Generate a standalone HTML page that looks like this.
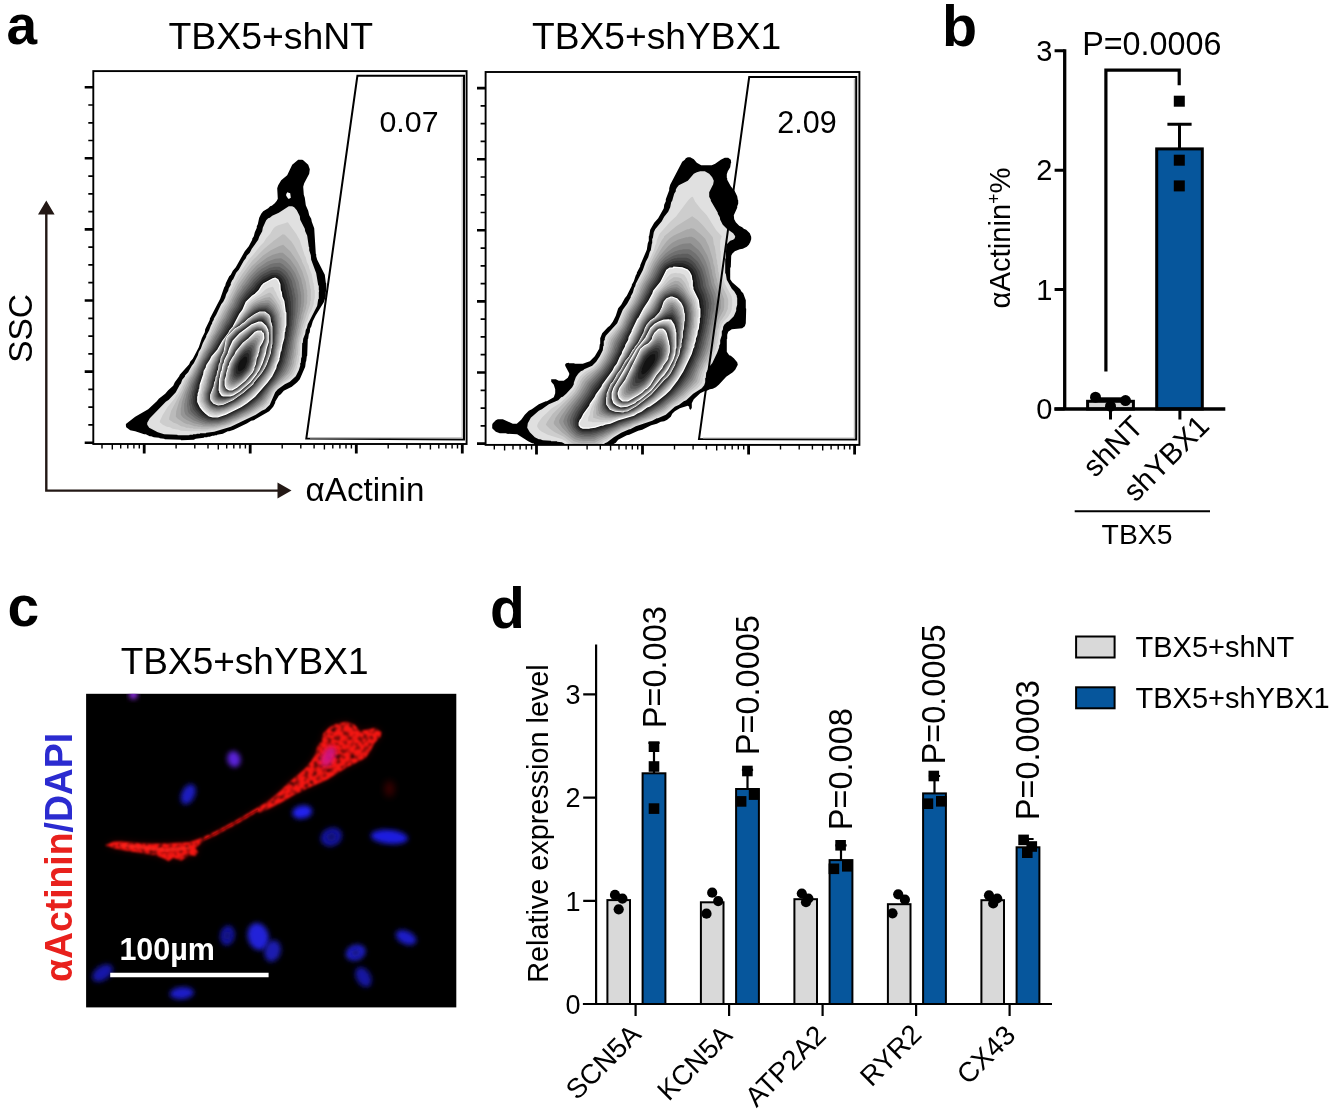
<!DOCTYPE html>
<html lang="en">
<head>
<meta charset="utf-8">
<title>Figure</title>
<style>html,body{margin:0;padding:0;background:#fff}body{width:1334px;height:1116px;overflow:hidden;font-family:'Liberation Sans', sans-serif}</style>
</head>
<body>
<svg width="1334" height="1116" viewBox="0 0 1334 1116" font-family="'Liberation Sans', sans-serif" style="display:block">
<rect width="1334" height="1116" fill="#fff"/>
<text x="6.5" y="44" font-size="55" font-weight="bold" fill="#000">a</text>
<text x="270.8" y="48.8" font-size="37.4" text-anchor="middle" fill="#000">TBX5+shNT</text>
<text x="656.6" y="48.8" font-size="37.2" text-anchor="middle" fill="#000">TBX5+shYBX1</text>
<defs><clipPath id="cp1"><rect x="94" y="71" width="372" height="373"/></clipPath><clipPath id="cp2"><rect x="486" y="72" width="373" height="372.9"/></clipPath></defs>
<g clip-path="url(#cp1)"><path d="M287.2 192.2 290.2 193.2 290.8 197.8 289.2 198.8 288.2 198.8 286.2 195.8 286.2 194.2ZM303.2 160.2 302.2 159.8 298.2 159.8 292.2 164.8 287.2 175.2 281.2 180.2 278.2 185.2 277.2 188.2 277.8 198.8 276.8 200.8 274.8 203.2 271.8 205.8 270.2 206.2 268.2 208.2 263.2 211.2 261.2 213.8 259.2 217.8 257.8 224.2 256.8 226.2 256.8 227.8 254.8 232.2 253.8 236.2 252.2 238.8 252.2 239.8 248.8 246.2 244.8 251.2 235.8 267.2 232.8 270.8 230.8 274.8 229.2 276.2 225.8 283.2 225.2 285.8 224.2 287.2 220.2 298.8 209.8 318.8 209.8 319.8 205.2 329.2 204.8 332.2 201.8 338.2 198.8 347.2 192.8 358.8 190.2 361.8 189.2 364.2 179.8 374.8 179.2 376.2 174.8 382.2 173.2 385.8 168.2 390.2 165.2 393.8 158.8 398.8 156.8 401.2 148.2 409.2 135.2 416.8 126.2 423.8 125.8 424.8 126.2 427.2 130.2 430.2 135.2 431.2 144.2 434.2 145.8 434.2 149.8 436.2 151.2 436.2 153.8 437.2 159.2 437.8 159.8 438.2 164.2 438.8 164.8 439.2 180.8 439.8 181.2 440.2 193.8 439.8 195.8 438.8 203.8 437.8 204.2 437.2 207.2 437.2 207.8 436.8 209.8 436.8 212.2 435.8 214.2 435.8 214.8 435.2 216.8 435.2 217.2 434.8 222.8 433.8 227.8 431.2 229.2 431.2 233.8 429.8 247.2 423.2 251.2 420.8 253.8 420.2 269.2 411.2 273.2 406.8 275.2 402.8 275.2 401.8 278.8 395.8 280.8 394.2 283.8 390.8 291.8 386.8 297.2 382.2 299.8 379.2 305.2 366.8 305.8 361.8 306.2 361.2 306.8 356.2 307.2 355.8 307.8 339.2 308.2 338.8 308.8 334.2 309.8 332.2 310.2 328.2 311.2 326.8 312.8 321.2 315.8 315.2 323.8 302.2 325.8 296.2 325.8 291.8 326.2 291.2 326.2 283.2 325.8 282.8 324.8 274.8 317.2 259.8 316.2 256.2 316.2 254.2 315.8 253.8 314.2 228.2 311.8 221.8 311.2 218.8 309.2 215.2 308.2 210.8 305.8 205.2 304.8 197.8 303.8 194.8 303.2 186.8 304.2 183.2 309.2 173.8 309.8 169.2 308.2 164.8Z" fill="#000"/>
<path d="M294.2 207.2 292.2 206.2 288.8 206.2 278.8 212.8 272.2 215.8 269.8 217.8 268.2 218.2 266.2 220.2 262.8 227.8 262.2 231.2 259.2 236.8 258.2 239.8 251.8 248.8 249.8 252.8 246.8 255.8 245.8 258.2 243.8 260.8 238.8 269.8 236.2 272.8 233.2 279.2 232.2 280.2 230.8 283.2 230.8 284.8 228.8 288.2 228.2 290.8 226.2 294.2 225.2 297.8 223.2 301.8 221.2 304.2 216.2 314.8 213.8 318.8 213.8 319.8 212.2 322.2 212.2 323.2 210.8 325.8 209.2 330.2 206.2 335.8 206.2 336.8 202.8 343.2 200.8 348.8 198.8 351.8 197.8 355.2 193.8 363.2 191.8 365.8 188.2 372.2 185.2 375.2 184.8 376.8 182.2 379.8 180.8 383.8 179.8 384.8 175.8 392.2 168.8 399.8 165.8 401.8 149.8 418.2 147.2 422.8 147.2 424.8 149.2 427.8 157.8 432.2 164.2 434.2 177.2 434.8 177.8 435.2 189.2 435.2 189.8 434.8 192.8 434.8 193.2 434.2 196.2 434.2 196.8 433.8 199.8 433.8 200.2 433.2 205.8 433.2 206.2 432.8 214.2 431.8 230.8 426.8 255.8 414.8 261.8 410.8 265.2 409.2 269.8 404.8 275.2 392.2 277.8 389.2 284.8 384.2 289.8 381.8 295.8 376.2 298.8 370.2 300.2 365.8 300.2 363.2 300.8 362.8 301.2 357.8 301.8 357.2 302.2 343.2 302.8 342.8 303.2 338.8 305.2 333.8 305.8 329.8 306.8 328.2 307.8 324.2 317.2 305.8 318.2 299.2 318.8 298.8 318.8 292.2 319.2 290.8 318.8 290.2 318.8 285.8 318.2 285.2 316.2 273.2 311.2 259.8 310.8 255.2 309.2 250.2 309.2 247.2 308.8 246.8 307.2 235.8 305.2 231.2 304.8 228.8 300.2 219.8 299.8 216.2 296.8 210.2Z" fill="#e0e0e0"/>
<path d="M287.8 222.2 278.2 225.2 275.2 226.8 273.2 228.8 270.2 233.8 266.2 238.2 263.8 242.2 259.8 246.2 253.2 254.8 249.8 258.2 238.2 275.2 233.2 284.2 233.2 285.2 230.2 290.8 230.2 291.8 224.8 303.2 222.2 306.8 217.8 316.2 215.8 319.2 215.8 320.2 212.2 326.8 210.8 331.2 202.2 347.8 201.2 350.8 199.8 352.8 199.8 353.8 193.8 365.8 191.2 369.2 190.2 371.8 184.2 380.2 183.8 382.2 177.8 393.8 176.2 395.2 174.8 398.2 167.8 406.8 162.8 414.8 159.8 421.2 159.8 422.2 162.8 424.8 166.8 426.8 169.8 427.2 172.8 428.8 178.8 429.8 180.8 430.8 190.8 431.2 191.2 431.8 191.8 431.2 205.8 431.2 206.2 430.8 210.8 430.8 211.2 430.2 213.8 430.2 228.2 426.2 251.8 415.2 264.2 407.8 268.2 403.8 274.2 391.8 276.8 388.8 282.8 383.8 290.8 378.2 293.8 374.8 297.2 367.2 297.2 365.8 298.8 361.2 299.2 356.2 299.8 355.8 299.8 350.8 300.2 350.2 300.2 344.2 300.8 343.8 301.2 338.8 303.2 333.2 303.8 329.2 304.8 327.8 305.8 323.2 307.8 319.2 309.2 314.2 311.8 309.8 313.8 303.8 313.8 301.2 314.8 297.8 314.8 290.2 314.2 289.8 314.2 286.2 313.8 285.8 313.8 283.2 313.2 282.8 311.8 274.2 309.2 268.2 308.8 265.8 306.8 261.8 305.8 257.2 304.8 255.8 299.8 240.2 296.2 233.8Z" fill="#cdcdcd"/>
<path d="M284.8 234.8 282.8 234.2 273.8 240.8 264.2 248.8 252.2 260.8 242.2 274.2 236.2 283.8 229.2 297.8 229.2 298.8 226.8 303.8 224.8 306.2 220.2 315.8 219.2 316.8 195.8 364.8 194.8 365.8 190.8 373.8 185.8 381.2 185.2 383.2 182.8 387.8 182.8 388.8 171.2 410.8 169.2 417.8 169.2 419.8 173.8 422.8 176.8 423.8 181.2 426.2 184.2 426.8 186.2 427.8 189.2 427.8 189.8 428.2 192.8 428.2 193.2 428.8 200.2 428.8 200.8 429.2 208.2 429.2 208.8 428.8 216.2 428.2 229.8 424.2 244.8 416.8 245.8 416.8 248.8 415.2 249.8 414.2 254.2 412.2 261.2 407.2 262.8 406.8 266.8 402.8 267.2 401.2 270.8 396.2 272.2 392.8 274.8 389.2 278.8 385.2 287.8 378.2 291.8 373.8 294.2 368.8 295.8 364.2 295.8 362.2 296.2 361.8 297.2 355.2 297.8 354.8 298.8 342.2 299.2 341.8 299.8 337.2 301.2 333.2 301.8 329.2 310.2 303.8 310.2 301.2 310.8 300.8 310.8 288.8 310.2 288.2 310.2 285.8 309.8 285.2 308.2 276.8 304.8 267.2 301.8 261.2 301.8 260.2 294.2 245.8 291.2 241.2Z" fill="#bbbbbb"/>
<path d="M283.2 244.8 278.8 246.2 270.8 250.2 262.8 255.8 251.2 266.8 238.2 284.8 228.2 304.8 224.8 310.2 212.2 335.2 211.2 336.2 210.2 339.2 209.2 340.2 205.8 347.8 204.8 348.8 195.8 367.2 194.8 368.2 191.8 374.8 189.2 378.2 179.2 401.2 176.2 411.2 175.8 416.8 177.8 418.8 183.8 422.8 187.2 424.2 188.8 424.2 194.8 426.2 197.2 426.2 197.8 426.8 200.8 426.8 201.2 427.2 213.8 427.2 214.2 426.8 216.8 426.8 217.2 426.2 219.2 426.2 221.2 425.2 224.8 424.8 230.2 422.8 232.8 421.2 233.8 421.2 249.8 413.2 262.8 404.8 265.2 402.2 270.8 393.8 271.8 391.2 275.8 386.2 282.2 380.8 289.8 372.8 292.8 366.8 294.2 361.8 294.2 359.8 295.8 354.8 295.8 351.2 296.2 350.8 296.8 343.2 297.2 342.8 297.8 338.2 299.8 331.8 299.8 329.8 300.2 329.2 301.8 321.8 303.2 318.2 303.8 314.8 306.2 307.8 306.2 305.8 307.2 302.8 307.2 296.8 307.8 295.8 307.2 295.2 307.2 290.2 306.8 289.8 305.8 282.2 302.2 271.2 297.8 262.2 290.2 251.2Z" fill="#a8a8a8"/>
<path d="M282.8 252.8 279.8 252.8 272.8 254.8 266.8 257.8 256.2 265.8 248.2 274.8 237.2 290.8 232.2 300.2 231.8 302.2 230.8 303.2 223.2 317.8 219.8 323.2 214.8 333.8 213.8 334.8 207.2 347.8 203.8 353.2 192.2 376.8 191.2 377.8 188.8 382.8 188.2 385.2 185.2 391.8 181.8 402.2 181.2 407.2 180.8 407.8 180.8 414.8 183.2 417.8 186.2 419.8 193.8 423.2 202.8 425.2 203.2 425.8 214.8 425.8 215.2 425.2 217.8 425.2 218.2 424.8 222.2 424.2 230.8 421.2 234.2 419.2 235.2 419.2 249.8 411.8 260.2 404.8 264.8 400.2 271.8 389.2 274.2 386.2 286.8 373.8 288.8 370.8 291.8 363.8 291.8 361.8 293.2 357.2 294.2 349.2 294.8 348.8 295.8 339.2 296.2 338.8 297.8 330.2 299.2 325.8 299.2 323.8 301.2 317.2 301.2 315.2 302.8 310.8 302.8 308.8 303.8 305.8 303.8 302.8 304.2 302.2 304.2 293.2 303.8 292.8 303.8 289.8 303.2 289.2 303.2 287.2 302.8 286.8 302.8 284.8 302.2 284.2 301.2 278.8 296.2 267.8 290.2 259.2Z" fill="#959595"/>
<path d="M281.2 258.2 275.2 258.8 267.2 261.8 257.8 268.2 250.2 276.2 244.2 284.8 242.2 286.8 241.8 288.2 237.8 293.8 233.8 301.2 233.8 302.2 228.2 311.2 225.2 317.8 222.8 321.2 219.8 327.8 213.8 337.8 208.8 347.8 206.2 351.2 190.8 382.2 186.2 394.8 186.2 396.2 184.8 400.8 184.8 402.8 184.2 403.2 184.2 410.8 185.2 414.2 187.2 416.2 193.2 420.2 202.8 423.8 204.8 423.8 205.2 424.2 211.2 424.2 211.8 424.8 212.2 424.2 219.2 423.8 223.2 422.2 224.8 422.2 238.8 416.2 239.8 415.2 250.8 409.8 259.2 403.8 264.2 398.8 270.8 388.8 283.8 374.8 286.2 371.2 289.8 363.8 289.8 362.2 291.2 357.8 291.2 355.8 291.8 355.2 291.8 353.2 292.2 352.8 294.2 338.2 296.2 331.2 296.2 329.2 296.8 328.8 296.8 326.8 297.2 326.2 297.2 324.2 297.8 323.8 297.8 321.8 298.2 321.2 298.2 319.2 298.8 318.8 298.8 316.8 299.8 313.8 299.8 311.2 300.2 310.8 300.2 307.8 300.8 307.2 300.8 304.2 301.2 303.8 301.2 294.8 300.8 294.2 300.8 291.8 300.2 291.2 300.2 288.8 299.8 288.2 298.8 282.2 295.2 273.2 290.2 265.8 285.8 261.2Z" fill="#828282"/>
<path d="M282.8 264.2 279.8 262.8 273.8 263.2 270.2 264.2 261.8 268.8 256.2 273.2 251.2 278.8 248.2 283.2 244.2 287.8 237.2 298.2 233.2 306.8 230.8 310.2 225.2 321.2 222.8 324.8 221.2 328.2 216.2 336.2 210.2 347.8 208.2 350.2 204.8 357.2 203.8 358.2 197.8 370.2 197.8 371.2 191.2 385.2 187.8 396.8 186.8 406.2 187.2 406.8 187.8 411.2 188.8 413.2 195.8 418.8 199.8 420.8 205.8 422.8 208.8 422.8 209.2 423.2 218.8 422.8 230.8 418.8 245.8 411.2 253.8 406.2 261.8 399.8 264.8 395.2 266.8 393.2 269.8 388.2 278.8 378.2 284.2 371.2 287.2 365.2 289.8 356.2 289.8 354.2 290.2 353.8 290.2 351.8 291.2 348.8 291.8 342.8 292.2 342.2 292.2 340.2 292.8 339.8 292.8 337.8 293.2 337.2 293.2 335.2 293.8 334.8 293.8 332.8 294.2 332.2 294.2 330.2 294.8 329.8 294.8 327.8 295.8 324.8 296.2 318.8 296.8 318.2 297.2 312.8 297.8 312.2 297.8 307.8 298.2 307.2 298.2 294.8 297.8 294.2 297.2 289.2 296.8 288.8 295.8 283.2 294.2 278.8 291.8 273.8 289.8 270.8Z" fill="#707070"/>
<path d="M279.2 266.8 273.8 266.8 273.2 267.2 269.8 267.8 260.8 272.8 253.8 279.2 239.2 298.2 235.2 306.8 232.8 310.2 228.2 319.2 227.2 320.2 220.8 332.2 202.8 362.2 193.8 382.8 192.2 387.2 192.2 388.8 190.8 392.2 190.8 393.8 189.8 396.2 189.8 399.2 189.2 399.8 189.2 405.2 189.8 405.8 190.2 409.8 191.2 411.8 194.8 415.2 199.2 418.2 203.2 420.2 208.2 421.8 217.8 421.8 226.8 419.2 233.8 415.8 234.8 415.8 237.8 413.8 245.2 410.2 252.2 405.8 261.2 398.2 269.2 387.2 276.8 378.8 282.2 371.2 286.2 362.8 286.8 359.2 287.8 357.2 287.8 355.2 288.2 354.8 288.2 352.8 288.8 352.2 288.8 350.2 289.8 347.2 289.8 344.8 290.2 344.2 290.2 342.2 291.2 339.2 291.2 336.8 291.8 336.2 291.8 334.2 292.2 333.8 292.2 331.8 293.2 328.8 294.8 315.8 295.2 315.2 295.8 297.8 295.2 297.2 295.2 294.8 294.2 291.8 294.2 289.2 293.2 287.2 291.8 280.8 287.2 272.8 284.2 269.8Z" fill="#5d5d5d"/>
<path d="M279.2 270.2 277.8 270.2 277.2 269.8 271.2 270.2 263.8 273.8 260.8 275.8 253.8 282.8 252.2 285.2 246.2 291.8 240.8 299.2 237.2 306.8 233.2 312.8 228.8 321.8 225.2 326.8 224.2 329.2 217.8 339.2 212.2 349.2 208.8 353.8 207.2 357.2 204.8 360.8 196.2 380.2 193.8 387.8 193.8 389.2 192.2 392.8 191.8 398.2 191.2 398.8 191.2 403.8 191.8 404.2 192.8 409.2 198.2 415.2 202.8 418.2 203.8 418.2 207.8 420.2 210.2 420.2 210.8 420.8 219.8 420.2 228.8 417.2 244.8 409.2 254.2 402.8 261.2 396.2 268.2 386.8 274.8 379.2 281.2 369.8 284.8 361.8 284.8 360.2 286.8 353.8 288.2 344.2 288.8 343.8 288.8 341.2 289.2 340.8 289.2 338.8 290.2 335.8 290.8 330.8 291.2 330.2 291.2 327.8 292.2 324.2 292.2 320.2 292.8 319.8 292.8 315.2 293.2 314.8 293.2 300.2 292.8 299.8 292.8 296.2 291.8 293.8 291.8 291.2 288.2 279.8 285.8 275.8 281.8 271.8Z" fill="#4a4a4a"/>
<path d="M279.8 273.8 277.2 272.8 271.8 272.8 263.2 276.8 255.8 283.8 254.2 286.2 246.2 294.8 241.2 301.8 238.2 308.2 235.8 311.8 229.2 324.2 227.8 325.8 224.2 332.2 218.8 340.2 217.8 342.8 205.8 361.2 198.8 377.2 195.8 386.2 195.8 387.8 194.8 389.8 193.8 395.8 193.2 396.2 193.2 403.8 195.8 409.8 201.2 415.2 205.2 417.8 211.8 419.8 219.2 419.2 227.2 416.8 244.2 408.2 250.2 404.2 258.8 397.2 273.2 379.2 279.8 369.2 283.2 360.8 283.2 359.2 284.8 354.8 284.8 352.8 286.2 348.2 286.2 345.8 286.8 345.2 286.8 343.2 287.2 342.8 287.2 340.8 287.8 340.2 287.8 338.2 288.8 335.2 288.8 332.8 289.2 332.2 289.2 329.8 289.8 329.2 289.8 326.8 290.2 326.2 290.8 315.8 291.2 315.2 290.8 301.2 290.2 300.8 290.2 297.8 289.2 295.2 289.2 293.2 288.8 292.8 288.8 290.8 288.2 290.2 287.2 284.8 285.8 281.8 285.8 280.8 283.2 276.8Z" fill="#373737"/>
<path d="M277.2 275.2 275.8 275.2 275.2 274.8 271.2 275.2 262.8 279.8 257.2 285.2 253.8 290.2 252.8 290.8 243.8 300.8 240.2 308.2 236.8 313.2 230.8 324.8 219.8 341.2 215.2 349.2 209.2 357.2 208.2 359.8 205.2 364.2 203.8 368.8 201.8 372.2 201.8 373.8 200.8 375.2 197.8 384.2 197.8 385.8 195.2 394.2 194.8 401.8 195.8 405.2 198.8 410.2 203.2 414.8 208.8 417.8 212.2 418.2 212.8 418.8 215.2 418.8 215.8 418.2 218.8 418.2 219.2 417.8 224.2 416.8 240.2 409.2 248.2 404.2 255.8 398.2 263.2 390.2 264.8 387.8 272.2 378.8 278.8 367.8 278.8 366.8 281.8 360.2 281.8 358.8 283.2 354.2 283.2 352.2 283.8 351.8 283.8 349.8 284.8 347.2 286.8 335.2 287.2 334.8 287.2 332.2 287.8 331.8 287.8 329.2 288.8 325.8 289.2 311.2 288.8 310.8 288.2 300.8 287.8 300.2 287.8 298.2 287.2 297.8 286.2 291.8 284.8 287.2 284.8 285.2 281.8 278.8 279.2 276.2Z" fill="#252525"/>
<path d="M276.8 277.2 275.2 276.8 271.8 277.2 262.8 282.2 260.2 284.8 257.8 288.8 245.2 301.2 241.2 309.8 239.2 312.2 231.8 326.2 228.8 329.8 227.8 332.2 220.8 342.2 216.8 349.2 210.8 356.8 209.2 360.2 205.8 365.8 205.8 366.8 202.8 372.8 202.8 374.2 199.8 382.2 198.8 388.2 196.8 394.8 196.8 398.8 196.2 399.8 196.8 400.2 197.2 404.2 198.8 407.2 201.8 411.2 203.8 413.2 209.2 416.8 210.8 417.2 218.8 417.2 226.8 414.8 240.8 407.8 249.8 401.8 258.2 394.2 268.2 382.2 273.2 375.2 277.8 366.2 277.8 365.2 279.8 361.2 279.8 359.8 281.8 353.2 281.8 351.2 283.2 346.8 283.2 344.8 283.8 344.2 283.8 342.2 284.2 341.8 284.8 337.2 285.2 336.8 285.2 334.2 286.2 331.2 286.8 325.2 287.2 324.8 287.2 311.8 286.8 311.2 286.2 303.2 285.8 302.8 285.2 298.8 284.2 296.8 284.2 294.8 282.8 290.2 281.8 283.8 279.8 279.8Z" fill="#121212"/>
<path d="M275.2 278.2 272.8 278.8 263.8 283.8 261.8 285.8 258.8 290.8 255.2 294.2 252.2 296.2 246.2 302.2 242.8 310.2 239.8 314.2 233.2 326.8 229.8 330.8 228.8 333.2 222.8 341.2 217.8 349.8 211.8 356.8 210.2 360.2 206.8 365.2 206.2 367.8 204.2 371.2 203.8 374.2 200.2 384.8 199.8 389.2 199.2 389.8 199.2 391.2 198.2 393.8 198.2 396.2 197.8 396.8 197.8 401.8 200.2 406.8 202.8 410.2 205.8 413.2 209.2 415.8 212.8 416.8 217.8 416.8 225.8 414.2 240.8 406.8 246.8 402.8 254.8 396.2 267.2 382.2 271.8 375.8 275.8 367.8 276.2 365.2 278.8 359.8 278.8 357.8 279.2 357.2 280.2 351.2 280.8 350.8 281.8 344.8 283.8 337.8 284.2 331.8 284.8 331.2 284.8 328.8 285.8 325.2 285.8 312.8 285.2 312.2 283.8 301.2 281.8 296.8 281.2 292.2 280.2 290.2 279.8 284.2 277.8 279.8Z" fill="#e0e0e0" stroke="#fff" stroke-width="1.3"/>
<path d="M272.8 286.8 268.8 287.8 265.8 289.2 260.8 293.8 251.2 300.2 247.8 303.8 244.2 310.2 240.8 314.8 234.2 325.8 229.8 330.8 228.8 333.2 224.2 339.2 218.2 350.2 212.8 357.2 210.2 362.8 208.2 365.8 207.2 369.2 205.8 371.8 205.2 374.8 201.8 385.2 201.2 389.8 199.8 394.8 199.8 401.2 201.8 405.8 204.2 409.2 206.8 411.8 210.8 414.2 216.8 415.2 217.2 414.8 219.2 414.8 219.8 414.2 224.8 413.2 233.8 409.2 234.8 408.2 241.8 404.8 251.8 397.2 263.2 385.2 271.2 374.2 274.8 367.2 275.2 364.8 277.8 359.2 277.8 357.2 278.2 356.8 279.2 350.8 280.8 346.2 280.8 343.8 281.8 341.2 281.8 338.2 282.2 337.8 282.8 331.2 283.2 330.8 283.2 327.8 283.8 327.2 283.8 313.8 281.8 307.2 281.8 305.2 280.8 303.8 280.8 302.2 276.8 294.8 276.2 292.8 274.2 289.8 274.2 288.8Z" fill="#cdcdcd"/>
<path d="M270.2 292.8 268.8 292.8 256.8 298.8 251.8 302.2 248.8 305.2 246.8 308.8 236.8 322.2 236.2 323.8 230.2 330.8 229.8 332.2 225.8 337.2 218.8 350.8 213.8 357.8 211.2 363.2 210.2 364.2 205.8 376.2 205.8 377.8 204.2 381.2 204.2 382.8 202.2 389.2 201.8 393.8 201.2 394.2 201.2 401.2 205.8 408.8 209.2 411.8 215.2 413.8 220.2 413.2 226.8 411.2 239.8 404.8 251.2 396.2 259.8 387.8 266.2 379.8 270.2 373.8 273.8 366.8 274.2 364.2 276.8 358.8 276.8 356.8 277.2 356.2 278.2 350.2 279.8 345.8 279.8 343.2 280.2 342.8 280.2 340.2 281.2 336.8 281.2 333.2 281.8 332.8 281.8 328.2 282.2 327.8 282.2 317.2 281.8 316.8 281.2 311.2 279.2 305.2 272.2 294.2Z" fill="#bbbbbb"/>
<path d="M269.2 296.8 268.8 297.2 264.8 297.8 259.2 300.2 258.2 300.2 253.2 303.2 250.2 305.8 226.8 336.2 219.2 351.2 214.8 357.8 210.8 365.8 206.8 377.2 206.8 378.8 205.8 380.8 205.8 382.2 203.8 388.2 203.8 390.2 202.8 392.8 202.8 396.8 202.2 397.2 202.8 401.2 205.8 406.8 210.2 410.8 214.2 412.2 219.8 412.2 227.8 409.8 237.8 404.8 250.2 395.8 259.2 386.8 265.8 378.8 270.2 371.8 275.2 360.2 275.8 356.8 276.8 354.8 277.2 350.2 278.2 347.8 278.2 345.8 278.8 345.2 279.8 336.2 280.2 335.8 280.2 330.8 280.8 330.2 280.8 317.8 280.2 317.2 279.8 312.8 276.2 304.2 271.8 298.8Z" fill="#a8a8a8"/>
<path d="M269.8 300.8 268.8 300.2 265.2 300.2 264.8 300.8 261.2 301.2 255.2 303.8 251.8 306.2 244.2 314.8 238.2 322.8 229.8 332.2 226.2 337.2 220.2 349.8 220.2 350.8 215.8 357.8 211.8 366.2 206.8 381.2 206.8 382.8 203.8 393.2 203.8 400.2 204.2 401.8 207.8 407.2 210.2 409.2 215.2 411.2 219.2 411.2 227.8 408.8 237.8 403.8 248.8 395.8 257.2 387.8 265.2 377.8 269.8 370.8 273.8 361.8 274.8 357.2 275.8 355.2 275.8 353.2 276.2 352.8 276.2 350.8 276.8 350.2 277.2 346.2 277.8 345.8 277.8 343.2 278.2 342.8 278.8 334.8 279.2 334.2 279.2 328.2 279.8 327.8 279.2 317.2 278.8 316.8 278.8 314.8 277.8 311.8 274.8 305.8Z" fill="#959595"/>
<path d="M269.2 303.2 268.2 302.8 260.8 303.2 257.8 304.2 253.2 306.8 247.2 312.8 240.8 320.8 230.8 331.2 229.8 333.2 226.8 336.8 224.2 341.8 221.8 348.8 219.2 353.8 218.2 354.8 213.2 365.2 208.2 380.2 208.2 381.8 207.2 383.8 207.2 385.2 204.8 393.8 204.8 399.8 206.8 404.2 210.8 408.2 213.8 409.8 215.8 409.8 216.2 410.2 219.2 410.2 219.8 409.8 224.2 409.2 229.2 406.8 230.2 406.8 239.2 401.8 249.2 394.2 257.8 385.8 265.2 376.2 268.8 370.8 271.2 365.8 271.8 363.2 272.8 361.8 274.8 355.8 276.2 346.8 276.8 346.2 276.8 343.8 277.2 343.2 277.8 334.2 278.2 333.8 278.2 320.2 277.8 319.8 277.2 314.8 273.8 307.8Z" fill="#828282"/>
<path d="M268.8 305.2 267.8 304.8 261.8 304.8 261.2 305.2 259.2 305.2 254.2 307.8 251.8 309.8 244.2 317.2 238.8 323.8 235.8 326.2 230.2 332.2 226.2 337.8 221.2 351.2 216.8 359.2 216.8 360.2 215.2 362.8 213.8 367.8 212.8 369.2 212.8 370.8 211.8 372.2 211.8 373.8 208.8 382.2 208.8 383.8 205.8 394.2 205.8 399.2 206.8 402.2 209.8 406.2 212.8 408.2 216.2 408.8 216.8 409.2 219.8 409.2 220.2 408.8 224.2 408.2 227.2 407.2 237.8 401.8 247.2 394.8 256.8 385.8 267.2 371.8 270.2 365.8 273.8 356.2 273.8 354.8 274.8 352.2 274.8 349.8 275.8 347.2 275.8 344.8 276.2 344.2 276.8 334.2 277.2 333.8 277.2 321.8 276.8 321.2 276.2 316.2 273.2 309.8Z" fill="#707070"/>
<path d="M267.8 306.8 266.2 306.2 259.2 306.8 254.2 309.2 247.8 314.8 247.8 315.2 232.8 329.8 226.8 337.2 224.8 343.2 223.8 344.8 223.8 346.2 222.8 347.8 222.2 350.2 218.2 357.8 218.2 358.8 215.8 363.8 211.8 375.8 211.8 377.2 210.2 380.8 209.2 386.2 206.8 393.8 206.8 399.2 209.2 404.2 211.2 406.2 216.2 408.2 220.8 408.2 221.2 407.8 223.2 407.8 226.2 406.8 236.2 401.8 244.8 395.8 255.2 386.2 265.8 372.8 266.8 370.2 267.8 369.2 271.2 361.2 273.8 353.2 274.8 345.8 275.2 345.2 275.8 334.8 276.2 334.2 276.2 322.8 275.8 322.2 274.8 315.8 272.2 310.8Z" fill="#5d5d5d"/>
<path d="M267.8 308.8 265.8 307.8 261.2 307.8 260.8 308.2 258.8 308.2 254.8 310.2 250.2 313.8 240.8 323.2 236.2 326.8 230.8 332.2 226.2 338.2 226.2 339.8 224.8 342.8 224.8 344.2 222.2 351.8 218.8 358.2 217.2 363.2 216.2 364.8 216.2 366.2 213.8 372.8 213.8 374.2 212.2 377.8 212.2 379.2 210.8 382.8 210.8 384.8 207.8 393.8 207.8 399.2 209.2 402.8 212.2 405.8 215.8 407.2 224.2 406.8 234.8 401.8 244.8 394.8 253.2 387.2 263.8 374.2 268.8 365.2 272.8 354.2 273.8 346.8 274.2 346.2 274.2 343.2 274.8 342.8 274.8 336.2 275.2 335.8 275.2 324.8 274.8 324.2 274.8 320.8 274.2 320.2 273.8 316.2 271.2 311.8Z" fill="#4a4a4a"/>
<path d="M265.8 309.2 259.8 309.2 256.8 310.2 252.2 313.2 242.8 322.2 236.2 327.2 229.8 333.8 227.2 337.2 225.8 340.2 223.8 349.2 217.8 362.8 217.8 364.2 216.2 367.8 216.2 369.2 215.2 370.8 214.8 374.2 213.8 376.2 213.8 377.8 212.2 381.2 211.8 384.8 208.8 393.8 208.8 399.8 210.2 402.8 212.2 404.8 215.2 406.2 220.2 406.8 227.2 404.8 235.8 400.2 247.8 391.2 255.2 383.8 265.8 369.8 270.2 359.8 271.2 355.2 272.2 353.2 272.2 351.2 273.2 348.2 273.2 345.2 273.8 344.8 273.8 338.8 274.2 338.2 274.2 324.8 273.8 324.2 273.8 321.2 273.2 320.8 272.8 317.2 271.2 313.8Z" fill="#373737"/>
<path d="M266.8 311.2 264.8 310.2 260.2 310.2 256.2 311.8 249.2 316.8 243.8 322.2 234.2 329.2 227.2 337.2 225.2 343.2 224.2 349.2 218.8 362.2 218.8 363.8 217.2 367.2 215.8 374.2 214.8 376.2 214.2 379.8 213.2 381.2 212.2 386.8 209.8 392.8 209.8 394.8 209.2 395.2 209.8 399.8 211.2 402.8 213.8 404.8 216.8 405.8 223.8 405.2 228.8 402.8 229.8 402.8 238.8 397.2 247.8 390.2 254.8 383.2 263.2 372.2 266.2 367.2 270.8 355.8 270.8 354.2 271.8 351.8 271.8 349.2 272.2 348.8 272.2 346.2 272.8 345.8 272.8 342.2 273.2 341.8 273.2 325.2 272.8 324.8 272.8 321.8 270.2 314.2Z" fill="#252525"/>
<path d="M266.2 312.2 263.8 311.2 261.2 311.2 260.8 311.8 258.8 311.8 253.2 314.8 249.2 317.8 244.2 322.8 242.8 323.2 238.2 327.2 234.8 329.2 227.2 337.2 226.2 340.2 224.8 349.2 220.8 358.2 220.8 359.8 218.8 364.8 218.2 369.2 217.2 370.8 216.2 376.2 213.8 383.2 213.2 386.8 210.2 394.2 210.2 399.2 212.2 402.8 213.8 403.8 218.2 405.2 223.2 404.8 233.8 399.8 247.2 389.8 253.8 383.2 264.2 369.2 267.2 363.2 270.8 353.2 271.8 345.2 272.2 344.8 272.2 325.2 271.8 324.8 271.8 322.2 269.2 314.8Z" fill="#121212"/>
<path d="M264.8 312.2 259.8 312.2 253.8 315.2 248.2 319.2 244.2 323.2 242.8 323.8 239.8 326.2 234.8 329.2 227.2 337.2 226.2 340.2 224.2 351.8 221.2 358.2 220.8 361.8 219.2 365.2 218.8 369.8 217.8 371.2 217.2 375.2 216.2 377.2 215.8 380.8 214.8 382.2 214.2 386.2 210.8 394.8 210.8 398.8 211.2 400.2 213.8 403.2 218.2 404.8 223.2 404.2 232.8 399.8 243.2 392.2 252.8 383.8 253.8 381.8 261.2 372.8 264.2 368.2 266.2 364.2 270.2 353.2 270.8 348.2 271.2 347.8 271.2 344.8 271.8 344.2 271.8 326.2 271.2 325.8 271.2 323.8 270.2 321.2 269.8 317.2 268.8 315.2Z" fill="#e0e0e0" stroke="#fff" stroke-width="1.3"/>
<path d="M266.2 313.2 264.2 312.2 259.8 312.2 253.8 315.2 248.2 319.2 244.2 323.2 242.8 323.8 239.8 326.2 234.8 329.2 227.2 337.2 226.2 340.2 224.2 351.8 221.2 358.2 220.8 361.8 219.2 365.2 218.8 369.8 217.8 371.2 217.2 375.2 216.2 377.2 215.8 380.8 214.8 382.2 214.2 386.2 210.8 394.8 210.8 398.8 211.8 400.8 214.2 403.2 218.2 404.8 223.2 404.2 232.8 399.8 243.2 392.2 252.8 383.8 253.8 381.8 261.2 372.8 264.2 368.2 266.2 364.2 270.2 353.2 270.8 348.2 271.2 347.8 271.2 344.8 271.8 344.2 271.8 326.2 271.2 325.8 269.8 317.2 268.8 315.2Z" fill="#cdcdcd"/>
<path d="M264.2 313.2 259.2 313.2 254.2 315.8 248.2 319.8 244.2 323.8 242.8 324.2 239.8 326.8 234.8 329.8 229.2 335.2 227.2 338.2 224.8 350.2 221.2 358.2 220.8 361.8 219.8 363.2 218.8 369.8 217.8 371.2 217.2 375.2 214.8 382.8 214.2 387.2 212.8 390.8 212.8 392.2 211.8 393.8 211.8 398.8 214.2 402.2 218.2 403.8 222.8 403.8 224.2 402.8 225.8 402.8 230.2 400.2 231.2 400.2 235.8 397.8 243.2 392.2 252.8 383.8 253.8 381.8 261.2 372.8 264.2 368.2 269.8 354.2 269.8 352.8 270.8 350.2 270.8 347.8 271.2 347.2 271.2 344.8 271.8 344.2 271.8 327.8 271.2 327.2 269.2 317.8 267.8 315.2Z" fill="#bbbbbb"/>
<path d="M267.2 315.8 264.8 314.8 263.8 313.8 260.2 313.8 254.2 316.2 252.8 317.8 247.8 320.8 244.8 323.8 236.2 329.2 228.2 337.8 226.8 341.8 224.8 351.8 221.8 358.2 221.2 361.8 220.2 363.2 219.2 369.8 218.2 371.2 217.8 375.2 216.8 377.2 216.2 380.8 214.8 384.8 214.2 388.8 212.2 394.8 212.8 399.2 214.8 401.8 218.8 403.2 219.8 402.8 223.8 402.8 228.2 401.2 234.2 398.2 243.2 391.8 251.2 384.8 262.2 370.8 267.2 360.2 269.8 352.8 269.8 350.8 270.8 347.8 270.8 344.8 271.2 344.2 271.2 326.8 269.8 323.2 269.2 319.8Z" fill="#a8a8a8"/>
<path d="M263.8 314.8 259.8 314.8 252.2 318.2 240.8 327.2 235.2 330.8 228.8 337.8 227.2 341.8 227.2 343.2 225.8 347.8 225.8 349.8 223.8 355.2 222.2 357.8 221.2 362.2 220.2 363.8 219.2 370.2 218.2 371.8 217.8 375.8 216.8 377.8 216.8 379.8 215.2 384.2 215.2 386.8 213.2 393.2 213.2 397.8 213.8 399.2 215.8 401.2 218.8 402.2 223.2 402.2 229.2 400.2 235.2 397.2 242.8 391.8 250.2 385.2 262.2 370.2 267.2 359.2 269.2 353.2 269.2 351.2 269.8 350.8 269.8 348.8 270.2 348.2 270.2 346.2 271.2 343.2 271.2 330.8 270.8 330.2 270.8 326.8 268.8 321.8 268.8 320.2 267.2 317.2Z" fill="#959595"/>
<path d="M263.8 315.8 259.2 315.8 252.8 318.8 250.2 320.8 248.8 321.2 245.8 324.2 236.8 330.2 229.2 338.2 227.2 343.8 225.8 350.8 222.2 358.8 221.8 362.2 220.8 363.8 219.8 369.8 218.8 371.8 218.2 375.8 217.2 377.8 217.2 379.2 215.8 383.8 215.8 386.8 214.8 389.2 214.2 395.2 213.8 395.8 215.2 399.8 218.2 401.2 224.8 401.2 233.8 397.8 246.2 388.8 252.8 382.2 254.2 379.8 259.8 373.2 263.2 367.8 268.8 353.8 269.8 347.2 270.2 346.8 270.2 344.2 270.8 343.8 270.8 329.2 270.2 328.8 270.2 326.8 268.8 322.2 267.2 319.8 267.2 318.8 266.2 317.2Z" fill="#828282"/>
<path d="M263.8 316.8 262.2 316.8 261.8 316.2 258.8 316.8 252.2 319.8 235.8 331.8 229.2 339.2 227.8 343.8 227.8 345.2 226.8 347.2 226.8 348.8 225.8 350.8 225.8 352.2 224.8 353.8 224.8 354.8 222.2 360.2 222.2 361.8 221.2 363.2 221.2 364.8 217.2 379.2 217.2 381.2 216.2 383.2 216.2 386.2 215.8 386.8 215.2 393.2 214.8 393.8 214.8 396.2 216.2 399.2 218.2 400.2 222.8 400.8 223.2 400.2 227.8 399.8 234.8 396.8 236.2 395.2 240.8 392.8 251.8 383.2 252.8 381.2 258.2 374.8 262.2 368.8 264.8 363.8 268.8 352.2 269.8 344.8 270.2 344.2 270.2 340.8 270.8 340.2 270.8 334.2 270.2 333.8 270.2 328.8 269.8 328.2 269.8 326.8 266.2 318.8Z" fill="#707070"/>
<path d="M264.2 318.2 262.2 317.2 260.8 317.2 255.8 318.8 251.8 320.8 248.8 322.8 246.2 325.2 236.8 331.8 232.2 336.2 229.8 339.8 225.8 353.2 224.2 355.8 222.2 361.2 222.2 362.8 221.2 364.2 220.8 368.2 219.2 372.2 218.8 376.2 217.8 378.2 217.8 380.2 217.2 380.8 217.2 382.8 216.2 385.8 215.8 396.2 216.8 398.2 218.2 399.2 219.8 399.2 220.2 399.8 225.2 399.8 225.8 399.2 230.8 398.2 237.2 394.8 242.8 390.8 251.2 383.2 261.2 369.8 264.2 363.8 268.2 352.2 268.2 350.2 268.8 349.8 268.8 347.8 269.2 347.2 269.8 342.8 270.2 342.2 270.2 331.8 269.8 331.2 269.8 328.2 266.8 321.2Z" fill="#5d5d5d"/>
<path d="M264.2 319.2 262.2 318.2 260.2 318.2 252.2 321.2 237.2 332.2 230.8 339.2 227.2 348.8 226.8 351.8 223.2 359.2 223.2 360.8 221.2 365.8 221.2 367.8 219.8 371.8 219.2 375.8 217.8 380.2 217.2 385.2 216.8 385.8 216.8 395.8 217.8 397.8 220.2 398.8 226.8 398.8 227.2 398.2 230.8 397.8 235.8 395.2 242.2 390.8 250.2 383.8 260.2 370.8 262.8 366.2 262.8 365.2 265.8 358.8 266.2 355.8 267.8 352.2 269.2 343.8 269.8 343.2 269.8 330.8 269.2 330.2 269.2 328.2 266.8 322.8Z" fill="#4a4a4a"/>
<path d="M263.2 319.8 262.2 319.2 257.8 319.8 250.2 323.2 246.2 326.8 238.2 332.2 231.2 339.8 227.2 351.8 224.8 356.8 224.8 357.8 223.2 360.8 223.2 362.2 222.2 363.8 222.2 365.2 218.8 377.8 217.8 385.2 217.2 385.8 217.2 392.8 217.8 393.2 217.8 395.8 218.2 396.8 222.2 398.2 225.8 398.2 226.2 397.8 228.8 397.8 231.8 396.8 236.8 394.2 244.8 388.2 249.8 383.8 259.2 371.8 262.2 366.2 262.2 365.2 263.8 362.8 264.2 360.2 266.2 355.8 267.8 348.2 268.8 346.2 269.2 339.8 269.8 339.2 269.8 335.2 269.2 334.8 268.8 328.2 266.2 323.2Z" fill="#373737"/>
<path d="M262.8 320.8 261.8 320.2 257.2 320.8 250.8 323.8 239.2 332.2 232.2 339.8 229.2 346.2 227.8 351.8 224.2 359.2 219.2 377.2 218.2 385.2 217.8 385.8 218.2 386.8 217.8 387.8 218.2 389.2 218.2 393.2 219.2 396.2 221.8 397.2 228.2 397.2 233.2 395.8 241.8 390.2 250.8 382.2 256.8 374.8 260.2 369.2 265.2 357.2 265.2 355.8 266.8 352.2 267.2 348.2 268.2 346.2 268.8 341.2 269.2 340.8 268.8 330.2 265.8 323.8Z" fill="#252525"/>
<path d="M261.8 321.2 255.2 322.2 251.2 324.2 239.8 332.8 232.8 340.2 223.8 361.8 223.8 363.2 222.8 364.8 221.8 370.8 220.8 372.8 220.2 376.8 219.2 379.2 219.2 381.8 218.8 382.2 218.8 391.8 219.2 392.2 219.2 393.8 220.8 395.8 224.2 396.8 230.2 396.2 234.2 394.8 239.8 391.2 250.8 381.8 256.2 374.8 259.8 369.2 264.8 357.2 264.8 355.8 266.2 352.2 266.2 350.2 268.8 341.8 268.8 332.8 268.2 332.2 267.8 328.8 264.8 323.8Z" fill="#121212"/>
<path d="M262.2 322.8 261.2 322.2 258.8 322.2 251.8 324.8 239.8 333.8 233.2 340.8 229.8 348.2 228.2 353.2 224.8 360.2 224.2 363.2 223.2 364.8 222.2 370.2 221.2 372.2 220.2 378.2 219.8 378.8 219.2 390.2 219.8 390.8 219.8 392.2 221.8 395.2 223.2 395.8 230.2 395.8 233.2 394.8 239.2 391.2 250.2 381.8 256.2 374.2 256.8 372.8 258.8 370.2 262.2 362.8 265.2 353.8 266.2 348.2 268.2 342.2 268.2 332.2 267.8 331.8 267.8 330.2 265.8 326.2Z" fill="#e0e0e0" stroke="#fff" stroke-width="1.3"/>
<path d="M262.8 324.2 260.8 323.2 257.8 323.2 252.2 325.2 240.2 334.2 233.8 341.2 225.2 360.2 223.2 366.2 223.2 367.8 221.2 374.2 221.2 376.2 220.2 378.8 219.8 389.2 220.2 389.8 220.2 391.2 222.2 394.2 224.8 395.2 229.8 395.2 233.2 394.2 237.8 391.8 243.8 387.2 250.2 381.2 257.8 371.2 260.8 365.2 261.2 362.8 262.2 361.2 264.2 355.2 264.2 353.8 265.2 351.8 265.8 348.2 267.8 342.2 267.8 339.2 268.2 338.8 268.2 335.8 267.8 335.2 267.2 330.2 265.2 326.8Z" fill="#cdcdcd"/>
<path d="M262.8 325.2 260.8 324.2 257.2 324.2 251.2 326.8 240.2 335.2 236.8 338.8 233.8 342.8 230.8 348.8 230.2 351.2 227.8 355.8 227.8 356.8 225.8 360.2 220.8 378.2 220.2 388.2 221.2 391.8 222.2 393.2 226.2 394.8 229.8 394.8 233.2 393.8 237.8 391.2 243.8 386.8 249.8 381.2 257.2 371.2 260.2 365.2 262.2 358.2 263.2 356.8 263.2 355.2 264.8 351.8 264.8 349.8 265.8 347.8 265.8 346.2 267.2 342.8 267.2 340.2 267.8 339.8 267.2 331.8 265.2 327.8Z" fill="#bbbbbb"/>
<path d="M262.8 326.2 260.8 325.2 256.2 325.2 251.8 327.2 240.2 336.2 237.2 339.2 233.8 344.2 228.8 354.8 228.8 355.8 226.2 360.2 223.8 367.8 223.2 371.8 221.2 378.2 220.8 387.2 221.8 390.8 223.8 393.2 227.2 394.2 229.2 394.2 229.8 393.8 233.2 393.2 238.8 390.2 249.2 381.2 254.2 375.2 256.8 371.2 260.2 363.8 263.8 353.2 264.8 347.8 266.8 342.8 266.8 340.2 267.2 339.8 266.8 331.8 265.2 328.8Z" fill="#a8a8a8"/>
<path d="M262.2 326.8 259.8 325.8 257.8 325.8 252.2 327.8 240.2 337.2 234.2 344.8 234.2 345.8 233.2 346.8 231.2 350.8 231.2 351.8 226.8 360.2 224.2 367.8 223.2 373.8 221.8 378.2 221.2 386.8 222.2 390.2 223.8 392.2 228.2 393.8 229.2 393.2 232.2 393.2 238.8 389.8 248.8 381.2 255.8 372.2 259.8 363.8 266.8 340.2 266.8 334.2 266.2 333.8 266.2 331.8 265.2 329.8Z" fill="#959595"/>
<path d="M261.8 327.2 256.8 326.8 252.8 328.2 243.2 335.8 235.8 343.8 227.8 359.2 226.2 364.2 225.2 365.8 225.2 367.2 223.2 373.8 223.2 375.8 222.8 376.2 222.2 380.8 221.8 381.2 221.8 386.2 222.8 389.8 224.2 391.8 226.8 392.8 232.2 392.8 237.2 390.2 243.8 385.2 251.2 377.8 254.8 373.2 258.8 364.8 262.2 354.2 263.2 348.8 266.2 340.8 266.2 333.8 265.8 333.2 265.8 331.8 263.8 328.8Z" fill="#828282"/>
<path d="M262.2 328.2 257.8 327.2 257.2 327.8 255.8 327.8 251.2 330.2 243.2 336.8 238.2 341.8 234.2 347.8 227.2 361.8 225.2 367.8 225.2 369.2 223.2 375.8 223.2 377.8 222.8 378.2 222.2 386.2 223.2 389.2 224.2 390.8 227.2 392.2 232.2 392.2 237.2 389.8 243.8 384.8 250.2 378.2 254.2 373.2 258.2 364.8 259.8 360.2 259.8 358.8 262.2 352.2 262.2 350.2 265.8 340.8 265.8 333.2 264.2 330.2Z" fill="#707070"/>
<path d="M261.8 328.8 256.8 328.2 251.8 330.8 239.8 341.2 233.8 349.8 233.2 351.8 227.8 361.8 223.8 375.8 223.2 380.8 222.8 381.2 222.8 385.8 223.8 388.8 225.2 390.8 227.8 391.8 232.2 391.8 237.2 389.2 244.2 383.8 252.8 374.8 255.2 370.8 255.8 368.2 258.2 363.2 258.2 361.8 261.8 351.8 261.8 349.8 265.8 338.8 265.2 333.2 264.2 331.2Z" fill="#5d5d5d"/>
<path d="M262.2 329.8 257.8 328.8 257.2 329.2 255.8 329.2 252.2 331.2 240.8 341.2 234.2 350.2 227.8 363.2 224.2 375.8 223.8 380.8 223.2 381.2 223.2 385.2 223.8 385.8 223.8 387.2 225.8 390.2 227.8 391.2 232.8 391.2 237.2 388.8 245.8 381.8 252.2 374.8 254.2 371.8 255.2 368.2 256.8 365.8 258.2 361.2 258.2 359.8 260.2 354.8 260.2 353.2 261.2 351.2 261.2 349.2 263.8 343.8 265.2 338.8 264.8 333.2Z" fill="#4a4a4a"/>
<path d="M261.8 330.2 260.8 329.8 256.8 329.8 252.8 331.8 239.8 343.8 234.8 350.8 228.2 363.2 228.2 364.8 226.8 367.8 226.8 369.2 224.8 375.8 224.2 380.8 223.8 381.2 223.8 385.2 225.2 388.8 226.2 389.8 228.2 390.8 232.8 390.8 237.2 388.2 245.8 381.2 253.2 372.8 254.8 368.2 256.2 365.8 257.8 359.2 259.8 354.2 260.8 348.8 263.8 342.2 264.8 338.8 264.2 332.8Z" fill="#373737"/>
<path d="M261.8 330.8 260.8 330.2 257.2 330.2 252.8 332.8 241.8 342.8 238.2 346.8 237.8 348.2 235.2 351.2 233.8 354.8 229.2 362.2 228.8 364.8 227.2 367.8 227.2 369.2 225.8 373.8 225.8 375.8 224.8 378.2 224.2 384.8 225.2 387.8 227.2 389.8 228.2 390.2 232.8 390.2 237.2 387.8 245.8 380.8 252.8 372.8 256.2 364.2 256.2 362.8 257.2 360.8 257.2 358.8 258.8 355.8 258.8 354.2 259.8 351.8 260.2 347.8 263.2 342.2 264.2 338.8 263.8 332.8Z" fill="#252525"/>
<path d="M261.8 331.2 257.8 330.8 253.2 333.2 248.2 338.2 242.8 342.8 235.8 351.8 234.2 355.2 229.8 362.2 226.2 373.8 226.2 375.8 225.8 376.2 225.2 380.8 224.8 381.2 224.8 384.2 225.8 387.8 228.2 389.8 232.8 389.8 237.8 386.8 239.8 384.8 242.2 383.2 249.2 376.2 252.8 371.8 256.2 362.2 256.8 358.2 258.2 355.2 259.8 347.2 262.8 342.2 263.8 338.8 263.2 333.2Z" fill="#121212"/>
<path d="M261.2 331.2 257.8 331.2 255.2 332.2 248.8 338.8 243.2 343.2 236.2 351.8 234.8 355.2 232.8 357.8 229.8 363.2 229.8 364.8 228.2 367.2 228.2 368.8 226.8 373.2 226.8 375.2 225.2 379.8 225.2 385.2 226.2 387.8 227.2 388.8 229.2 389.8 232.2 389.8 236.8 387.2 245.2 380.2 252.2 372.2 253.8 368.8 253.8 367.2 255.2 364.2 256.2 358.2 257.8 355.2 257.8 353.8 258.8 351.2 259.2 347.2 262.2 342.2 263.8 338.2 263.2 333.2 262.2 332.8Z" fill="#e0e0e0" stroke="#fff" stroke-width="1.3"/>
<path d="M261.2 332.8 260.2 332.2 255.8 332.8 248.8 339.2 245.2 341.8 239.2 348.2 232.8 358.2 229.8 363.8 229.8 365.2 227.8 369.8 227.8 371.8 227.2 372.2 226.2 378.8 225.8 379.2 225.8 384.8 226.8 387.2 228.8 388.8 231.2 389.2 236.8 386.8 244.8 380.2 252.2 371.8 253.8 368.2 253.8 366.8 255.2 363.8 256.2 357.8 258.8 350.2 258.8 348.2 259.8 345.2 262.2 341.2 262.2 339.8 262.8 339.2 262.8 334.8Z" fill="#cdcdcd"/>
<path d="M259.8 333.8 256.8 333.8 254.8 334.8 246.8 341.2 240.2 347.8 233.2 358.2 230.8 362.8 230.2 365.2 228.8 368.2 227.2 376.8 226.8 377.2 226.8 379.8 226.2 380.2 226.8 384.8 228.8 387.2 229.8 387.8 232.8 387.8 236.2 386.2 245.2 379.2 250.2 373.8 252.2 370.8 253.2 366.8 254.8 363.8 255.8 357.8 257.2 354.2 258.2 347.8 261.8 339.2 261.8 336.2Z" fill="#bbbbbb"/>
<path d="M259.8 336.2 257.8 335.2 255.8 335.8 249.8 339.8 240.2 348.8 236.2 354.2 230.8 364.2 228.2 372.8 227.8 378.2 227.2 378.8 227.2 382.2 227.8 382.8 227.8 384.2 229.8 386.2 230.8 386.8 234.2 386.2 240.8 382.2 248.2 375.2 251.2 371.2 254.2 363.2 255.8 355.8 257.2 351.8 257.8 347.2 260.2 340.2 260.2 337.2Z" fill="#a8a8a8"/>
<path d="M257.2 337.8 255.2 337.8 247.2 342.8 240.2 349.8 234.8 357.8 231.8 363.2 228.8 373.8 228.2 381.8 228.8 383.2 231.2 385.2 233.8 385.2 238.8 382.8 242.8 379.8 250.2 371.8 253.2 364.8 253.2 363.2 254.8 359.2 254.8 357.2 256.2 353.2 256.8 348.2 257.2 347.8 257.2 345.8 258.8 340.8 258.2 338.8Z" fill="#959595"/>
<path d="M255.8 340.2 253.2 340.2 247.2 343.8 240.2 350.8 234.2 359.8 232.2 363.8 230.2 369.8 229.8 374.8 229.2 375.2 229.2 380.2 230.8 383.2 231.8 383.8 234.2 383.8 238.8 381.8 242.2 379.2 249.8 371.2 252.8 364.2 252.8 362.8 253.8 360.8 253.8 358.8 255.2 354.2 255.2 352.2 255.8 351.8 256.2 345.8 256.8 345.2 256.8 341.8Z" fill="#828282"/>
<path d="M254.2 342.8 251.2 342.8 246.2 345.8 240.8 351.2 234.8 360.2 231.2 368.8 230.8 373.8 230.2 374.2 230.2 378.8 230.8 380.2 232.8 382.2 234.8 382.2 240.2 379.8 242.2 378.2 249.2 370.8 251.8 365.2 251.8 363.8 252.8 361.8 253.2 357.8 254.2 355.2 254.2 353.2 254.8 352.8 255.2 344.8Z" fill="#707070"/>
<path d="M252.8 345.2 251.2 344.8 246.8 346.8 242.8 350.2 236.8 358.2 233.2 365.2 231.8 370.2 231.2 376.2 231.8 376.8 231.8 378.2 233.2 380.2 236.8 380.2 240.8 378.2 242.8 376.8 248.2 370.8 250.8 365.8 252.2 360.8 252.8 356.2 253.2 355.8 253.8 346.8Z" fill="#5d5d5d"/>
<path d="M250.8 347.2 249.2 347.2 244.2 350.2 239.8 355.2 234.8 363.8 232.8 370.2 232.8 376.2 234.2 378.2 236.8 378.8 241.8 376.2 247.2 370.8 248.8 368.2 251.2 361.2 251.2 359.2 252.2 356.2 252.2 349.2Z" fill="#4a4a4a"/>
<path d="M248.8 349.8 245.2 351.2 240.2 356.2 235.2 365.2 234.2 368.8 234.2 374.8 234.8 375.8 236.2 376.8 239.2 376.2 241.8 374.8 246.2 370.2 248.8 365.8 250.8 358.8 250.8 351.8 250.2 350.8Z" fill="#373737"/>
<path d="M247.8 352.8 244.8 353.8 240.8 357.8 236.8 364.8 235.8 367.8 235.8 372.8 237.2 374.2 239.2 374.2 242.8 372.2 246.2 368.2 248.8 362.2 248.8 360.2 249.2 359.8 249.2 354.8Z" fill="#252525"/>
<path d="M246.2 356.8 244.2 356.8 240.8 360.2 239.2 362.8 237.8 366.8 237.8 369.8 238.8 371.2 240.8 371.2 244.8 367.8 247.2 361.2 247.2 357.8Z" fill="#121212"/></g>
<g clip-path="url(#cp2)"><path d="M728.2 157.8 724.8 157.8 720.8 159.8 715.2 163.8 711.8 165.2 701.2 165.2 696.8 162.8 693.8 159.2 690.2 157.2 687.8 157.2 685.8 158.2 684.8 159.8 682.2 161.8 670.2 184.8 669.2 188.2 669.2 190.2 665.8 199.2 665.8 201.2 664.2 204.8 663.8 208.2 658.2 218.2 654.2 222.8 650.2 229.8 649.2 235.8 648.8 236.2 648.8 240.8 647.8 243.2 646.8 249.8 640.2 265.2 640.2 266.2 636.8 272.8 636.8 273.8 635.8 275.2 633.8 281.2 631.8 284.8 631.8 285.8 626.8 295.8 624.8 298.2 621.2 304.8 618.2 308.2 615.8 315.8 612.8 321.8 609.8 325.8 607.8 327.2 602.2 333.2 600.2 338.2 600.2 343.8 599.8 344.2 599.2 348.8 594.8 356.2 589.8 361.2 582.8 363.8 574.8 363.8 574.2 363.2 569.2 363.2 568.8 362.8 566.2 363.2 565.2 364.2 565.2 365.8 569.2 373.2 569.2 374.8 567.8 377.8 563.8 380.8 558.8 380.8 555.8 379.2 551.2 379.2 551.2 381.8 553.8 384.8 555.2 389.2 555.2 393.2 553.8 397.2 546.8 401.2 545.8 401.2 538.8 404.2 531.8 409.2 528.8 410.8 524.8 414.8 521.2 419.8 516.8 423.8 512.8 423.8 502.8 419.2 497.8 419.2 495.8 420.2 492.8 423.2 492.2 424.8 492.2 428.2 495.8 431.8 499.8 433.2 506.2 433.2 506.8 433.8 517.2 434.2 528.2 441.2 532.2 443.2 533.2 443.2 535.2 444.8 538.2 448.2 541.8 448.8 542.2 449.2 559.2 449.8 559.8 450.2 589.2 450.2 589.8 449.8 600.2 449.8 600.8 449.2 608.8 448.8 610.2 448.2 613.2 444.2 615.8 442.8 618.2 439.8 626.8 435.2 629.2 434.8 638.2 430.8 642.2 429.8 651.2 425.2 656.8 423.8 660.8 421.8 664.2 421.2 667.2 419.8 670.8 416.8 672.2 413.8 674.8 411.2 679.8 408.2 687.8 405.8 689.2 406.8 689.2 408.2 689.8 409.2 690.8 409.8 691.8 407.8 691.8 403.2 693.8 399.2 700.2 393.2 704.2 391.2 706.8 390.8 709.8 389.2 712.8 388.8 715.8 387.2 718.8 384.8 726.2 376.8 732.8 372.2 735.2 369.8 737.8 364.8 737.2 362.2 733.8 358.2 730.8 355.8 729.2 355.2 726.8 351.8 726.8 339.2 727.2 338.8 727.2 334.8 728.2 331.8 731.8 329.2 742.2 328.2 744.8 326.2 745.8 323.2 746.2 308.8 745.8 308.2 745.8 300.2 743.2 293.2 741.2 291.2 740.2 289.2 732.2 282.2 730.2 279.2 730.2 267.8 730.8 267.2 731.2 255.8 732.2 253.8 734.8 251.2 739.8 249.2 742.8 248.8 746.8 246.8 748.8 244.8 750.2 242.2 751.2 239.2 751.2 236.8 749.8 233.2 746.2 229.8 743.8 228.8 742.2 227.2 739.2 225.8 735.8 222.2 734.2 219.2 733.8 215.2 737.2 207.8 737.2 206.2 738.2 203.8 738.2 200.2 737.8 199.8 737.2 196.2 734.8 191.2 730.8 186.2 727.2 179.8 727.2 178.2 726.8 177.8 726.8 174.2 727.8 171.2 730.2 167.2 730.8 163.2 731.2 162.8 730.8 159.8Z" fill="#000"/>
<path d="M709.2 173.8 704.8 171.2 700.2 171.2 696.8 172.2 693.8 173.8 687.8 180.8 678.8 185.2 676.8 187.8 675.8 189.8 675.8 191.2 674.2 193.8 672.2 200.8 671.2 202.2 670.2 207.2 668.2 211.8 664.2 216.8 661.8 221.2 655.2 229.2 653.8 232.2 652.8 238.2 652.2 238.8 652.2 243.2 651.8 243.8 650.8 250.2 649.8 251.8 648.2 257.2 645.8 261.8 642.8 270.2 635.8 283.8 635.2 286.2 634.2 287.8 632.8 292.8 630.8 296.2 630.8 297.2 627.2 303.8 622.8 309.8 617.2 323.2 605.8 335.8 604.8 338.2 604.8 339.8 603.8 341.2 603.8 345.8 603.2 346.2 602.8 350.2 599.8 356.2 596.2 361.8 592.2 365.8 584.2 369.2 583.2 370.2 580.8 371.2 578.2 373.8 575.8 377.2 573.8 382.8 573.8 384.2 572.2 387.2 566.2 393.8 562.8 396.8 561.2 397.2 558.2 400.2 548.8 404.2 541.8 409.2 538.8 410.8 530.8 417.8 527.8 423.2 527.2 427.8 529.8 432.2 534.8 437.2 538.8 439.2 540.2 439.2 542.8 440.2 550.8 440.8 551.2 441.2 556.8 441.2 557.2 441.8 561.8 442.2 563.8 443.2 566.2 445.2 568.8 448.2 570.8 449.2 578.2 449.8 578.8 450.2 589.2 450.2 589.8 449.8 596.8 449.8 597.2 449.2 599.2 449.2 601.2 448.2 601.8 446.8 604.8 443.2 607.2 442.2 613.8 437.2 621.2 432.8 629.2 429.2 630.2 429.2 635.8 426.2 652.2 420.8 656.8 418.2 657.8 418.2 665.8 414.8 674.8 406.8 679.2 404.8 683.8 401.2 686.2 400.2 693.2 393.8 701.8 388.2 704.2 385.2 705.2 382.2 705.2 378.2 705.8 377.8 706.2 372.8 708.2 369.2 708.8 367.2 712.2 363.2 717.2 352.8 719.2 347.2 719.2 345.8 720.2 343.8 720.2 340.2 721.8 335.2 721.8 331.2 722.8 329.8 723.2 326.8 724.2 324.8 726.8 322.2 728.8 321.2 733.8 316.2 736.2 310.8 736.2 308.2 737.2 304.8 737.2 297.8 736.8 297.2 736.8 295.8 734.2 291.2 731.8 288.8 726.8 279.8 725.8 273.8 725.2 273.2 725.2 258.8 725.8 258.2 726.2 245.8 726.8 244.2 730.2 240.8 733.2 239.8 734.8 238.2 735.2 236.2 733.2 233.2 726.8 228.8 722.8 224.8 720.2 219.8 719.8 217.2 717.8 213.8 717.8 212.8 710.8 200.8 710.8 199.8 709.2 196.8 709.2 192.2 713.2 184.2 713.8 180.8 712.2 177.2Z" fill="#e0e0e0"/>
<path d="M692.8 196.8 691.2 197.2 688.2 200.2 676.2 216.2 669.8 222.2 659.2 234.2 656.8 240.2 656.2 243.8 655.2 245.2 653.8 250.8 646.8 265.2 645.8 268.8 637.2 285.2 634.2 293.8 630.2 301.8 624.2 310.8 618.8 323.8 607.8 337.2 607.2 339.8 605.8 342.8 605.8 345.8 604.2 349.8 604.2 351.2 598.8 361.2 593.2 367.2 585.2 371.8 579.8 376.8 576.8 382.2 576.2 384.8 573.2 389.8 564.2 399.2 559.8 403.2 551.8 408.2 542.2 417.2 538.2 422.8 537.2 425.2 537.2 426.8 539.2 429.8 541.8 431.8 547.8 434.8 562.2 439.2 565.8 441.2 571.8 446.2 573.8 446.2 576.2 447.2 579.2 447.2 579.8 447.8 588.8 447.8 589.2 447.2 595.8 447.2 596.2 446.8 597.8 446.8 600.8 444.8 603.8 441.8 606.2 440.8 615.8 434.2 622.8 430.8 629.8 428.2 635.2 425.2 637.8 424.8 639.2 423.8 644.8 422.2 646.2 421.2 652.2 419.2 664.8 413.2 674.2 405.2 676.8 404.2 684.8 398.8 692.2 391.8 697.8 387.8 701.8 383.2 702.8 380.2 702.8 377.8 703.8 375.8 703.8 373.8 705.2 370.8 705.2 369.8 707.2 365.8 710.2 361.8 715.2 350.8 716.8 346.2 716.8 344.8 717.8 342.8 717.8 340.2 718.2 339.8 719.8 330.2 721.8 324.2 723.8 321.2 727.8 317.2 730.8 312.2 731.8 309.2 731.8 306.8 732.2 306.2 732.2 298.8 731.8 298.2 731.8 296.8 724.8 283.8 721.8 273.2 721.2 260.8 720.8 260.2 720.8 251.2 720.2 250.8 720.2 240.8 721.8 236.2 716.2 230.2 706.8 215.2 700.2 208.2 695.2 201.8Z" fill="#cdcdcd"/>
<path d="M692.2 216.2 676.2 226.2 664.2 236.2 663.8 237.8 661.8 240.2 647.8 268.2 647.8 269.2 639.2 285.2 639.2 286.2 637.8 288.8 636.2 293.2 631.2 303.2 626.2 310.8 619.8 325.2 609.8 338.2 607.8 343.8 607.8 345.8 606.8 347.8 606.2 350.8 602.2 358.8 599.2 363.2 594.2 368.8 587.2 373.2 582.8 377.2 579.8 381.8 579.8 382.8 574.8 391.8 571.8 395.2 552.8 413.8 547.2 421.8 545.8 424.8 549.8 428.8 554.8 432.2 563.8 436.8 572.2 443.2 576.8 444.8 579.2 444.8 579.8 445.2 592.2 445.2 592.8 444.8 597.2 444.2 602.8 440.2 606.2 438.8 612.2 434.8 616.8 432.8 617.8 431.8 618.8 431.8 621.8 429.8 622.8 429.8 624.2 428.8 630.2 426.8 633.8 424.8 651.2 418.2 664.2 411.8 671.2 405.8 684.2 396.8 690.2 390.8 695.8 386.2 699.2 382.2 702.2 371.8 705.8 364.2 708.2 360.8 712.8 350.8 715.2 342.8 715.2 340.8 717.2 333.8 717.2 330.8 718.8 327.2 719.2 324.2 720.2 322.8 720.2 321.8 725.2 314.8 727.8 308.8 727.8 305.8 728.2 305.2 728.2 299.8 726.8 295.2 722.2 286.2 719.2 277.2 718.8 272.2 718.2 271.8 718.2 268.2 717.8 267.8 717.8 264.8 717.2 264.2 717.2 261.2 716.2 257.8 716.2 254.2 715.8 253.8 714.8 246.8 713.8 244.2 712.8 237.2 702.8 225.2 697.8 220.2Z" fill="#bbbbbb"/>
<path d="M693.8 228.8 690.8 228.2 688.8 229.2 687.2 229.2 674.2 235.2 669.8 238.2 666.8 241.2 662.2 247.2 653.2 261.8 647.2 274.8 646.2 275.8 640.2 287.2 638.8 291.8 632.8 303.8 627.2 312.2 621.8 324.8 611.2 339.8 607.2 352.8 603.2 360.2 600.2 364.8 596.8 368.8 587.8 375.8 584.8 378.8 582.2 382.2 579.2 388.8 576.2 393.2 561.2 410.2 555.2 418.2 555.2 419.2 553.8 421.8 553.8 423.8 554.8 425.2 561.8 432.2 573.8 441.2 578.8 442.8 580.8 442.8 581.2 443.2 594.8 442.8 622.2 428.2 629.8 425.8 632.2 424.2 637.2 422.8 639.8 421.2 649.2 417.8 662.2 411.2 665.8 408.8 670.8 404.2 676.2 400.8 680.8 396.8 683.2 395.2 696.8 381.8 700.2 371.2 702.8 366.8 703.8 363.8 706.8 359.2 706.8 358.2 710.8 349.8 712.2 345.2 712.2 343.8 713.2 341.8 713.2 339.2 715.2 332.8 715.2 330.2 716.8 326.2 716.8 324.8 718.2 320.2 723.8 309.8 723.8 308.2 724.2 307.8 724.2 299.2 717.2 281.8 717.2 280.2 715.8 275.8 715.8 273.8 715.2 273.2 715.2 270.8 714.8 270.2 714.8 267.8 713.2 262.8 713.2 260.8 708.8 246.2 705.2 238.8 701.2 234.8Z" fill="#a8a8a8"/>
<path d="M694.8 238.2 691.8 236.8 688.8 236.8 688.2 237.2 686.2 237.2 677.8 239.8 672.2 242.8 668.2 246.2 659.8 255.8 654.8 263.2 648.8 275.8 643.2 284.8 640.2 291.2 640.2 292.2 634.8 303.2 629.2 311.8 621.8 327.8 613.8 339.2 611.8 343.8 611.2 346.8 610.2 348.2 610.2 349.8 605.8 359.2 600.8 366.8 585.8 381.2 578.2 394.2 567.8 406.8 561.2 416.2 559.2 420.2 559.2 422.8 562.2 427.8 571.2 436.8 574.8 439.2 579.8 440.8 582.2 440.8 582.8 441.2 594.2 440.8 601.2 437.2 602.2 437.2 621.8 427.2 626.8 425.8 628.2 424.8 641.8 419.8 644.2 418.2 645.2 418.2 660.2 410.8 664.8 407.8 667.2 405.2 675.8 399.2 681.8 394.2 690.8 385.2 695.2 379.8 698.8 369.8 703.8 359.8 704.8 358.8 704.8 357.8 707.8 351.8 710.2 344.2 715.2 321.8 720.8 308.2 720.8 300.2 718.2 292.2 714.2 282.8 714.2 280.8 712.2 274.2 712.2 272.2 711.8 271.8 711.8 269.8 711.2 269.2 710.2 263.8 707.2 255.2 701.2 244.8 699.2 242.2Z" fill="#959595"/>
<path d="M691.2 243.8 690.2 243.2 683.2 243.8 679.8 244.8 673.2 247.8 665.8 253.2 659.2 260.2 654.8 267.2 650.2 276.8 646.2 282.8 637.8 300.8 629.2 314.8 629.2 315.8 625.8 322.2 625.8 323.2 624.2 326.2 614.8 341.2 610.8 352.8 605.8 362.2 600.8 369.2 587.8 382.2 579.8 395.8 571.8 405.8 565.2 415.8 563.2 421.2 564.2 424.2 569.2 431.8 575.8 437.2 582.8 439.2 591.2 439.2 591.8 438.8 594.2 438.8 598.2 436.8 601.8 435.8 605.2 433.8 606.2 433.8 607.2 432.8 608.2 432.8 621.2 426.2 623.8 425.8 625.2 424.8 630.2 423.2 631.8 422.2 640.2 419.2 642.8 417.8 643.8 417.8 659.2 409.8 663.8 406.8 679.2 394.2 686.2 387.2 692.8 379.8 695.2 374.2 695.2 373.2 696.8 370.8 696.8 369.8 699.2 365.2 699.2 364.2 703.8 356.2 708.2 343.8 708.2 342.2 709.8 337.8 709.8 335.8 711.2 331.2 711.8 326.8 712.8 324.8 713.2 320.8 714.2 318.8 714.2 317.2 715.8 313.8 715.8 312.2 717.8 306.2 717.8 301.8 715.8 295.8 715.8 294.2 711.8 284.8 708.2 268.8 705.8 261.8 702.8 255.8 698.8 250.2Z" fill="#828282"/>
<path d="M691.2 250.2 689.2 249.2 682.8 249.2 682.2 249.8 680.2 249.8 675.2 251.2 670.2 253.8 665.2 257.2 660.8 261.8 657.2 266.8 652.2 276.8 646.8 285.2 637.8 303.8 631.2 314.2 624.2 329.2 616.8 341.2 614.2 347.2 613.2 351.2 608.8 360.2 603.2 368.8 589.2 383.8 584.2 392.8 574.2 406.2 568.2 416.2 566.8 420.8 568.2 425.8 571.8 431.2 576.2 435.2 581.8 437.2 592.8 437.2 603.8 433.2 620.8 425.2 628.8 422.8 630.2 421.8 637.8 419.2 641.2 417.2 642.2 417.2 662.2 406.2 674.8 396.2 685.2 385.8 691.2 378.2 694.8 370.8 694.8 369.8 697.2 365.2 697.2 364.2 702.2 354.8 702.8 352.2 704.8 348.2 704.8 346.8 706.2 343.2 706.2 341.8 708.8 333.2 709.8 326.2 710.8 323.8 710.8 321.8 712.2 317.2 712.2 315.2 713.8 310.8 714.2 305.2 714.8 304.8 713.2 296.2 708.8 284.8 708.2 280.8 704.2 266.8 699.2 257.8 695.8 253.8Z" fill="#707070"/>
<path d="M690.8 255.2 687.8 253.8 681.8 253.8 681.2 254.2 678.2 254.2 673.2 255.8 665.2 260.2 661.2 264.2 658.8 267.8 654.2 276.8 648.2 285.8 640.2 302.2 631.8 316.2 631.2 318.2 624.2 332.2 623.2 333.2 621.2 337.8 617.8 343.2 616.8 346.8 615.2 349.2 614.8 351.8 609.8 361.8 601.2 373.8 590.8 385.2 587.2 391.8 577.8 405.8 576.2 407.2 571.8 414.8 569.8 420.2 570.2 423.8 572.8 429.2 576.8 433.2 579.8 434.8 583.8 435.2 584.2 435.8 590.8 435.8 591.2 435.2 593.2 435.2 603.8 431.8 606.2 430.2 615.8 426.8 619.2 424.8 621.8 424.2 623.2 423.2 637.8 418.2 652.2 410.8 663.2 403.8 665.8 401.2 674.2 394.8 680.2 388.8 689.2 377.8 695.8 364.2 695.8 363.2 699.8 355.8 704.2 343.2 704.2 341.8 705.8 337.2 705.8 335.2 707.2 330.8 707.8 326.2 708.8 323.8 708.8 320.8 709.8 318.2 709.8 315.8 710.2 315.2 710.2 312.8 711.2 309.2 711.2 304.8 711.8 304.2 710.2 296.2 706.2 286.2 704.2 276.2 701.8 268.8 697.8 261.8Z" fill="#5d5d5d"/>
<path d="M689.2 258.8 686.8 257.8 677.2 257.8 676.8 258.2 674.8 258.2 671.8 259.2 664.2 263.8 660.2 268.8 654.8 279.2 649.2 287.2 643.2 299.8 634.8 313.8 627.2 328.8 626.8 330.8 625.8 331.8 618.8 345.2 616.8 351.2 611.2 362.2 603.8 373.2 592.2 386.8 587.8 394.8 575.8 412.2 572.8 418.8 572.8 424.2 573.8 427.2 577.8 431.8 582.2 433.8 592.2 433.8 592.8 433.2 596.2 432.8 607.8 428.8 609.2 427.8 611.8 427.2 618.8 423.8 632.8 419.2 643.8 414.2 659.8 404.8 672.8 394.2 681.2 385.2 688.2 375.8 690.2 371.8 690.2 370.8 694.8 362.2 694.8 361.2 697.8 355.8 701.2 346.2 701.2 344.8 702.2 342.8 702.2 341.2 705.2 330.8 705.2 328.8 705.8 328.2 705.8 326.2 706.8 323.2 706.8 320.2 707.8 317.2 708.2 309.2 708.8 308.8 708.8 302.2 708.2 301.8 708.2 299.8 706.8 295.8 706.8 294.2 705.8 292.8 705.2 290.2 703.2 285.8 702.8 281.8 699.8 271.2 695.2 263.8 692.2 260.8Z" fill="#4a4a4a"/>
<path d="M688.8 262.2 684.8 260.8 675.8 260.8 675.2 261.2 673.2 261.2 666.8 264.2 664.8 265.8 661.2 270.2 656.8 279.2 649.8 289.2 648.8 292.2 646.2 296.2 643.2 302.8 641.2 305.2 640.2 307.8 635.8 314.8 631.2 323.8 631.2 324.8 626.2 334.8 625.2 335.8 625.2 336.8 623.2 340.8 621.2 343.8 621.2 344.8 619.2 348.2 618.2 351.8 614.8 358.2 614.2 360.2 607.2 371.2 594.8 386.8 591.8 391.2 590.8 393.8 581.8 406.8 581.2 408.2 578.8 411.2 574.8 419.8 574.8 424.2 575.2 424.8 575.2 426.2 576.8 428.8 579.2 430.8 582.8 432.2 591.2 432.2 591.8 431.8 596.2 431.2 611.2 426.2 619.8 422.2 634.2 417.8 644.2 412.8 659.8 403.2 671.2 393.8 680.8 383.2 685.8 376.2 693.8 360.2 693.8 359.2 696.2 354.8 697.8 349.8 698.8 348.2 699.2 344.8 701.2 339.2 701.2 337.2 702.2 335.2 702.2 333.2 702.8 332.8 704.2 323.8 704.8 323.2 704.8 319.8 705.2 319.2 705.2 316.2 705.8 315.8 705.8 310.2 706.2 309.8 705.8 300.8 705.2 300.2 704.2 295.2 700.8 287.2 699.8 280.8 697.2 272.2 695.8 269.2 692.2 264.8Z" fill="#373737"/>
<path d="M688.2 265.2 682.8 263.2 675.2 263.2 668.8 265.2 666.2 266.8 663.2 270.2 657.2 281.8 651.2 289.8 646.2 300.2 636.2 316.8 632.8 323.8 632.8 324.8 626.2 337.2 626.2 338.2 621.2 347.8 621.2 348.8 615.2 361.8 607.8 373.2 599.8 383.2 597.8 386.8 595.8 388.8 591.8 395.8 580.2 412.8 576.8 419.8 576.8 425.2 577.2 426.8 580.2 429.8 582.8 430.8 590.8 430.8 593.8 429.8 596.2 429.8 609.2 425.2 610.8 425.2 615.8 422.8 622.2 420.8 623.8 419.8 634.2 416.8 642.2 412.8 656.8 403.8 668.8 394.2 676.2 386.2 682.8 377.8 688.8 366.8 688.8 365.8 692.8 358.2 692.8 357.2 694.8 353.8 695.8 349.8 696.8 348.2 697.8 343.2 699.8 337.2 699.8 335.8 700.2 335.2 700.2 333.8 700.8 333.2 700.8 331.8 701.2 331.2 701.2 329.8 701.8 329.2 702.2 324.2 702.8 323.8 703.2 315.2 703.8 314.8 703.8 305.2 703.2 304.8 703.2 301.2 701.2 294.8 699.8 292.2 697.8 286.8 697.2 281.8 696.8 281.2 695.8 275.2 692.8 269.2Z" fill="#252525"/>
<path d="M687.8 267.8 682.8 265.8 673.2 265.8 667.8 267.8 664.8 270.8 659.2 281.8 653.2 289.2 646.2 303.2 642.8 308.2 637.8 317.8 636.8 318.8 631.2 330.2 631.2 331.2 627.8 337.8 627.8 338.8 623.2 347.2 623.2 348.2 617.8 359.2 616.8 362.2 613.8 366.2 611.8 370.2 594.8 393.8 593.8 396.2 580.8 415.8 578.2 421.2 578.2 425.8 580.2 428.2 582.2 429.2 590.8 429.2 591.2 428.8 595.8 428.2 601.8 426.2 603.2 426.2 605.2 425.2 606.8 425.2 608.8 424.2 610.2 424.2 617.8 420.8 629.8 416.8 631.2 416.8 636.2 414.8 654.8 403.8 665.8 395.2 671.2 389.8 680.8 377.8 690.8 358.8 690.8 357.8 692.8 354.2 694.2 348.8 695.2 347.2 695.2 345.2 696.2 343.2 696.2 341.8 699.8 329.2 699.8 327.2 700.2 326.8 700.8 319.2 701.2 318.8 701.2 314.2 701.8 313.8 701.8 308.8 701.2 308.2 701.2 304.8 700.8 304.2 700.2 299.2 695.2 288.2 694.8 282.2 694.2 281.8 693.2 275.2 691.2 271.2Z" fill="#121212"/>
<path d="M687.2 269.8 682.2 267.8 673.8 267.2 673.2 267.8 669.8 268.2 666.8 270.2 660.8 282.2 653.8 290.8 652.8 293.8 648.2 302.2 643.8 308.8 638.8 318.2 637.8 319.2 632.2 330.8 632.2 331.8 629.2 337.2 628.8 340.2 625.8 345.2 625.8 346.2 622.8 351.8 622.2 354.2 620.2 357.2 617.2 364.2 614.8 367.2 612.8 371.2 602.8 384.8 601.8 387.2 596.2 394.8 595.2 397.2 590.2 404.2 589.8 405.8 583.8 414.2 581.2 419.2 580.2 420.2 579.2 422.8 579.2 425.2 580.8 427.2 582.8 428.2 589.2 428.2 589.8 427.8 595.2 427.2 601.2 425.2 602.8 425.2 604.8 424.2 610.2 423.2 617.8 419.8 633.8 415.2 636.8 413.2 641.2 411.2 647.2 406.8 649.8 405.8 655.8 401.8 665.2 394.2 669.8 389.8 677.2 380.2 682.8 371.2 691.2 353.8 692.8 348.2 693.8 346.8 693.8 344.8 695.2 340.8 695.2 338.8 696.8 334.8 697.2 330.8 698.2 328.8 698.8 323.2 699.2 322.8 699.2 317.8 699.8 317.2 699.8 308.8 699.2 308.2 698.2 300.2 692.8 289.2 692.8 287.2 692.2 286.8 692.2 280.8 691.8 280.2 691.2 275.8 689.2 271.8Z" fill="#e0e0e0" stroke="#fff" stroke-width="1.3"/>
<path d="M684.2 274.8 680.2 273.2 676.8 273.2 676.2 272.8 671.2 273.8 669.8 274.8 666.2 278.8 663.2 283.2 655.2 292.2 649.8 303.2 643.8 311.8 639.8 319.2 638.8 320.2 629.8 339.2 629.8 340.8 627.8 343.8 617.8 364.8 616.2 366.2 613.2 371.8 603.8 384.8 602.8 387.2 597.2 395.8 596.8 397.8 595.8 398.8 595.8 399.8 594.8 400.8 591.2 408.2 589.8 412.8 589.8 414.2 588.2 417.8 588.2 420.2 587.8 421.2 591.8 421.8 592.2 422.2 603.2 422.2 603.8 421.8 607.8 421.8 608.2 421.2 610.8 421.2 612.8 420.2 614.2 420.2 619.2 418.2 623.2 417.8 626.8 416.2 630.2 415.8 633.2 414.2 634.2 414.2 635.2 413.2 641.2 410.2 645.8 406.8 653.2 402.2 662.2 395.2 669.8 387.8 678.2 376.8 680.8 371.8 681.8 370.8 688.2 357.2 688.2 356.2 691.2 349.2 691.2 347.8 692.2 346.2 692.2 344.2 693.8 340.2 693.8 338.2 694.2 337.8 695.2 331.8 696.8 327.2 697.2 318.2 697.8 317.8 697.8 309.8 697.2 309.2 696.2 301.8 695.2 298.8 690.2 289.8 690.2 288.2 689.2 286.8 688.8 283.2 687.2 280.2 687.2 279.2Z" fill="#cdcdcd"/>
<path d="M681.2 278.2 677.8 277.2 673.8 277.2 669.2 280.2 656.2 293.8 649.2 306.8 646.8 309.8 639.8 320.8 630.8 339.8 630.8 340.8 628.8 343.8 623.8 353.8 623.2 355.8 620.8 359.2 620.8 360.2 619.2 363.2 611.2 375.8 604.2 385.2 602.2 389.8 599.2 394.2 599.2 395.2 597.8 397.8 597.8 398.8 596.2 401.2 594.2 406.8 594.2 408.8 593.2 411.8 593.2 417.8 600.2 419.8 611.2 419.8 615.8 418.2 617.8 418.2 618.2 417.8 627.8 415.8 635.2 412.8 651.8 402.2 661.8 394.2 671.8 383.8 678.2 374.8 686.8 357.8 690.2 348.2 690.2 346.8 692.2 340.2 692.2 338.2 693.8 333.8 694.2 329.2 695.2 326.8 695.8 316.8 696.2 316.2 696.2 311.2 695.8 310.8 695.8 308.2 695.2 307.8 695.2 305.8 694.8 305.2 694.8 303.2 693.8 300.2 691.2 295.2 690.2 294.2 685.2 283.2Z" fill="#bbbbbb"/>
<path d="M678.8 281.2 675.2 280.8 670.8 282.8 665.2 286.8 658.8 292.8 650.2 307.8 642.8 317.8 636.2 330.2 636.2 331.2 631.8 339.8 631.8 340.8 625.8 351.2 624.2 354.2 624.2 355.2 621.8 358.8 618.8 365.2 605.8 384.2 599.2 396.8 596.2 406.8 596.2 413.8 597.2 415.8 598.2 415.8 600.8 417.2 604.8 417.8 605.2 418.2 612.8 418.2 613.2 417.8 615.8 417.8 616.2 417.2 625.2 415.8 634.8 412.2 642.2 407.8 656.2 397.8 668.8 385.8 676.8 375.2 684.8 359.8 684.8 358.8 687.8 352.2 687.8 350.8 688.8 349.2 688.8 347.8 691.2 339.2 692.8 329.8 693.8 327.2 694.2 316.8 694.8 316.2 694.2 308.8 691.8 299.8 682.2 284.2Z" fill="#a8a8a8"/>
<path d="M677.2 284.2 674.8 284.2 671.8 285.2 667.8 287.2 662.2 291.2 659.8 293.8 656.8 298.2 650.8 309.2 645.8 315.2 641.8 321.2 638.8 327.2 638.8 328.2 633.2 338.8 633.2 339.8 628.8 347.2 626.8 351.8 625.8 352.8 624.8 355.8 622.2 359.2 620.2 363.8 616.8 368.8 616.2 370.2 605.2 386.2 605.2 387.2 602.2 392.2 602.2 393.2 599.8 398.8 599.8 400.2 598.2 404.8 598.2 410.8 598.8 411.2 598.8 412.8 599.2 413.8 601.8 415.2 602.8 415.2 604.2 416.2 609.2 416.8 609.8 417.2 616.8 416.8 617.2 416.2 620.2 416.2 620.8 415.8 626.8 414.8 631.2 413.2 636.2 410.8 648.2 402.8 656.8 396.2 664.8 388.8 671.8 380.8 675.8 375.2 682.8 361.8 682.8 360.8 684.8 357.2 685.2 354.8 687.8 348.8 688.8 342.8 690.2 338.2 690.2 335.8 690.8 335.2 690.8 333.2 691.2 332.8 691.2 330.8 692.2 327.8 692.2 325.2 692.8 324.8 692.8 321.2 693.2 320.8 693.2 311.2 692.8 310.8 691.8 304.2 690.2 301.2 690.2 300.2 684.2 290.8 682.2 288.2Z" fill="#959595"/>
<path d="M678.8 288.2 676.8 287.2 671.2 287.8 667.8 289.2 663.2 292.2 660.2 295.2 657.2 299.8 654.8 305.2 651.2 310.8 646.8 315.8 642.2 322.2 639.8 327.2 639.8 328.2 633.8 339.8 633.2 341.8 630.8 345.2 620.2 364.8 605.8 386.8 605.8 387.8 602.2 394.2 600.2 401.2 599.8 408.2 600.8 411.8 603.2 413.8 608.2 415.8 619.2 415.8 619.8 415.2 622.2 415.2 622.8 414.8 628.2 413.8 632.2 411.8 633.2 411.8 640.8 407.2 644.2 404.2 653.8 397.8 665.8 386.2 671.8 379.2 675.2 374.2 681.8 361.8 686.8 348.2 687.8 342.2 688.8 339.8 688.8 337.8 689.2 337.2 689.2 334.8 689.8 334.2 690.8 327.2 691.2 326.8 691.2 322.8 691.8 322.2 691.8 310.8 691.2 310.2 691.2 308.2 690.8 307.8 690.8 305.8 689.8 302.8 684.8 294.2 682.8 291.8Z" fill="#828282"/>
<path d="M678.8 290.8 675.8 289.2 671.2 289.8 667.2 291.2 662.8 294.2 659.2 298.8 652.8 310.8 647.2 316.8 642.8 323.2 633.2 343.2 628.8 350.2 618.8 368.2 607.2 385.2 603.8 392.8 601.8 399.2 601.2 407.8 602.2 410.8 605.2 413.2 609.2 414.8 612.2 414.8 612.8 415.2 615.8 415.2 616.2 414.8 617.8 415.2 618.2 414.8 622.2 414.8 622.8 414.2 628.2 413.2 633.8 410.8 640.2 406.8 643.8 403.8 653.2 397.2 662.2 388.8 673.8 375.2 681.2 360.8 685.8 348.2 686.8 341.8 687.8 339.2 688.2 333.8 689.2 330.8 689.8 325.2 690.2 324.8 690.2 320.8 690.8 320.2 690.8 312.8 690.2 312.2 689.8 307.2 688.2 302.8 684.8 296.8 682.8 294.2Z" fill="#707070"/>
<path d="M678.8 292.8 675.2 291.2 671.8 291.2 664.8 294.2 660.2 299.2 653.8 311.2 647.2 318.2 643.8 323.2 634.8 342.2 627.8 353.2 626.2 356.8 621.8 363.2 618.8 369.2 608.2 384.8 605.2 390.8 602.8 398.8 602.2 405.8 603.2 409.2 606.2 412.2 612.2 414.2 621.8 414.2 622.2 413.8 626.2 413.2 631.8 410.8 632.8 410.8 639.2 406.8 652.8 396.8 665.8 383.8 673.8 373.8 679.2 363.2 679.2 362.2 683.2 353.2 683.2 351.8 684.8 348.2 684.8 346.2 685.8 343.8 686.2 339.2 686.8 338.8 687.8 330.2 688.8 327.2 688.8 323.2 689.2 322.8 689.2 311.2 688.8 310.8 688.8 308.8 687.2 303.8 683.8 297.8Z" fill="#5d5d5d"/>
<path d="M678.2 294.2 674.2 292.8 671.8 292.8 665.2 295.2 660.2 301.2 658.2 305.2 658.2 306.2 655.2 311.2 647.2 319.8 644.8 323.2 635.8 342.2 632.8 346.2 627.2 356.2 623.2 361.8 619.2 369.2 615.2 374.8 611.2 381.8 609.8 383.2 605.8 391.2 603.8 398.2 603.2 404.8 604.8 408.8 607.8 411.8 614.2 413.8 621.2 413.8 621.8 413.2 624.2 413.2 629.2 411.8 636.8 407.8 652.2 396.2 668.8 379.2 672.8 373.8 677.2 365.8 677.2 364.8 681.2 356.2 682.2 351.8 683.8 348.2 684.8 341.2 685.8 338.8 685.8 335.8 686.2 335.2 687.2 326.8 687.8 326.2 687.8 322.2 688.2 321.8 688.2 312.2 687.8 311.8 686.8 305.8 684.2 300.8 680.8 296.2Z" fill="#4a4a4a"/>
<path d="M677.2 295.2 674.2 294.2 670.8 294.2 665.8 296.2 661.8 300.8 656.8 311.2 655.2 313.2 648.8 319.2 644.8 324.8 642.2 330.2 642.2 331.2 637.8 340.2 630.8 350.8 627.2 357.2 624.8 360.2 619.2 370.2 609.8 384.2 606.8 390.2 604.8 397.2 604.2 404.2 605.8 408.2 608.2 410.8 613.2 412.8 620.8 413.2 621.2 412.8 626.2 412.2 632.2 409.8 638.8 405.8 640.8 403.8 651.8 395.8 660.2 387.2 665.8 380.8 667.8 379.2 672.2 373.2 677.2 363.8 682.2 350.2 682.2 348.8 683.2 346.8 683.2 343.8 683.8 343.2 684.2 338.8 684.8 338.2 684.8 335.2 685.2 334.8 685.2 332.2 685.8 331.8 685.8 329.2 686.8 325.8 686.8 321.8 687.2 321.2 687.2 313.2 686.8 312.8 686.8 310.8 686.2 310.2 686.2 308.2 685.2 305.2 683.2 301.2 681.2 298.8Z" fill="#373737"/>
<path d="M677.2 296.8 672.2 295.2 666.2 297.2 662.2 301.8 660.2 307.2 656.2 313.8 651.8 317.8 646.2 323.8 640.8 335.2 640.8 336.2 639.2 338.2 637.2 342.8 631.2 351.2 626.2 359.8 624.8 361.2 620.2 369.8 616.8 374.2 615.8 376.8 609.8 385.2 606.2 393.8 606.2 396.2 605.2 399.2 605.2 404.8 606.8 407.8 609.2 410.2 614.8 412.2 620.8 412.8 621.2 412.2 623.8 412.2 624.2 411.8 627.8 411.2 636.2 406.8 651.2 395.2 669.2 376.2 672.2 371.8 677.2 361.8 677.2 360.8 680.2 354.2 681.2 348.8 682.2 347.2 682.2 343.8 682.8 343.2 682.8 341.2 683.8 338.2 684.2 331.8 684.8 331.2 684.8 328.8 685.8 325.2 685.8 320.8 686.2 320.2 686.2 314.2 685.8 313.8 685.8 311.2 685.2 310.8 685.2 308.8 684.2 305.8 680.2 299.2Z" fill="#252525"/>
<path d="M676.8 297.8 673.8 296.8 669.8 296.8 666.2 298.2 663.8 301.2 661.2 306.8 661.2 307.8 657.8 313.8 653.2 318.2 650.2 320.2 646.2 325.2 643.8 330.8 643.8 331.8 639.2 340.8 631.8 351.8 631.2 353.2 628.8 356.2 628.2 357.8 623.8 363.8 620.8 369.8 617.2 374.2 613.8 380.8 611.2 383.8 607.8 390.8 606.8 393.8 606.8 397.2 606.2 397.8 606.2 404.8 609.8 409.8 615.2 411.8 620.2 412.2 620.8 411.8 624.2 411.8 627.8 410.8 635.2 406.8 650.8 394.8 668.2 376.2 672.2 370.2 676.2 362.2 676.2 361.2 679.2 354.8 680.2 348.8 681.2 347.2 681.2 343.8 681.8 343.2 681.8 341.2 682.8 338.2 682.8 334.8 683.2 334.2 683.2 331.2 683.8 330.8 683.8 328.2 684.8 324.8 684.8 319.8 685.2 319.2 684.8 311.8 684.2 311.2 684.2 309.2 683.2 306.2 680.2 301.2Z" fill="#121212"/>
<path d="M676.8 298.8 672.2 297.2 670.8 297.2 666.8 298.8 664.2 301.8 662.2 307.8 659.8 312.8 655.2 317.8 650.8 320.8 647.2 324.8 645.2 328.8 644.2 332.2 638.2 343.8 635.2 347.2 634.8 348.8 633.2 350.2 628.8 357.8 625.8 361.2 620.8 370.2 617.2 374.8 616.2 377.2 612.8 382.8 611.2 384.2 607.2 393.8 607.2 397.2 606.8 397.8 606.8 404.2 610.2 409.2 615.2 411.2 623.2 411.8 623.8 411.2 627.2 410.8 636.2 405.8 650.8 394.2 663.8 379.8 667.2 376.8 670.2 372.8 674.8 364.2 674.8 363.2 678.8 354.2 679.8 348.2 680.8 346.8 680.8 342.8 681.2 342.2 681.2 340.2 682.2 337.2 682.2 331.8 683.2 328.8 683.8 321.2 684.2 320.8 684.2 313.8 683.8 313.2 682.8 307.2 680.8 303.2Z" fill="#e0e0e0" stroke="#fff" stroke-width="1.3"/>
<path d="M676.2 299.2 671.8 297.8 667.2 299.2 664.2 302.8 663.2 306.2 658.2 314.8 655.2 317.8 650.8 320.8 647.2 324.8 645.2 328.8 644.2 332.2 638.2 343.8 635.2 347.2 634.8 348.8 633.2 350.2 628.8 357.8 625.8 361.2 620.8 370.2 617.2 374.8 616.2 377.2 612.8 382.8 611.2 384.2 607.2 393.8 607.2 397.2 606.8 397.8 606.8 404.2 610.2 409.2 615.2 411.2 623.2 411.8 623.8 411.2 627.2 410.8 636.2 405.8 650.8 394.2 663.8 379.8 667.2 376.8 670.2 372.8 674.8 364.2 674.8 363.2 678.8 354.2 679.8 348.2 680.8 346.8 680.8 342.8 681.2 342.2 681.2 340.2 682.2 337.2 682.2 331.8 683.2 328.8 683.8 320.8 684.2 320.2 682.8 308.8 680.2 303.8Z" fill="#cdcdcd"/>
<path d="M675.2 300.2 673.8 300.2 671.8 299.2 668.2 300.2 665.2 303.2 665.2 304.2 664.2 305.2 663.2 308.2 660.2 313.2 655.2 318.2 650.8 321.2 647.2 325.2 644.2 331.2 644.2 332.2 638.2 343.8 635.2 347.2 634.8 348.8 633.2 350.2 628.8 357.8 625.8 361.2 620.8 370.2 617.2 374.8 616.2 377.2 612.8 382.8 611.2 384.2 608.2 391.2 607.8 395.2 607.2 395.8 607.2 403.8 609.2 407.2 610.8 408.8 615.2 410.8 624.8 411.2 628.2 410.2 636.2 405.8 650.8 394.2 663.8 379.8 667.2 376.8 670.2 372.8 674.8 364.2 674.8 363.2 678.8 353.8 679.2 349.8 680.8 345.2 680.8 341.2 681.2 340.8 681.2 337.8 681.8 337.2 681.8 331.8 682.2 331.2 682.2 328.8 683.2 325.2 683.2 322.8 682.8 322.2 683.2 320.8 683.2 314.8 682.2 312.8 681.8 309.2 679.2 304.2Z" fill="#bbbbbb"/>
<path d="M674.8 301.8 673.2 301.8 672.8 301.2 668.8 301.8 666.2 304.2 661.2 312.8 655.8 318.2 651.2 321.2 647.8 325.2 644.8 331.2 644.8 332.2 639.8 341.8 632.8 351.2 628.8 358.2 624.2 364.2 621.2 370.2 617.8 374.8 616.8 377.2 613.2 382.8 611.8 384.2 609.8 388.2 607.8 394.2 607.8 398.2 607.2 398.8 607.8 399.2 607.8 403.8 610.8 408.2 616.8 410.8 622.8 411.2 623.2 410.8 625.2 410.8 628.2 409.8 636.2 405.2 650.2 394.2 663.2 379.8 666.8 376.8 669.8 372.8 674.2 364.2 674.2 363.2 678.2 354.2 678.8 350.2 680.2 346.2 680.2 342.2 681.2 338.8 681.2 331.8 682.2 328.2 682.2 315.2 679.8 307.8 677.8 304.8Z" fill="#a8a8a8"/>
<path d="M673.8 303.2 671.2 302.8 668.2 304.2 662.2 312.8 657.2 317.8 651.2 321.8 648.2 325.2 641.2 339.8 635.8 347.2 632.2 353.2 630.8 354.8 630.2 356.2 624.2 364.8 621.2 370.8 618.8 373.8 616.8 377.8 612.2 384.2 608.8 392.2 608.2 398.2 607.8 398.8 608.2 403.8 609.8 406.2 611.8 408.2 618.8 410.8 622.8 410.8 629.8 408.8 635.8 405.2 649.2 394.8 655.8 388.2 663.2 379.2 666.2 376.8 670.2 371.2 674.2 363.8 674.2 362.8 677.2 356.2 678.2 351.2 678.8 350.8 678.8 348.2 679.8 346.2 679.8 342.2 680.8 339.2 680.8 331.2 681.2 330.8 681.2 325.2 681.8 324.8 681.8 323.2 681.2 322.8 681.2 316.2 680.2 314.2 680.2 312.8 677.2 306.8Z" fill="#959595"/>
<path d="M673.2 305.2 672.2 304.8 670.2 305.2 659.2 316.8 651.2 322.2 648.8 325.2 645.2 331.8 645.2 332.8 638.8 344.2 636.8 346.2 635.2 349.2 633.8 350.8 632.2 353.8 625.8 362.8 621.2 371.2 618.2 375.2 617.2 377.8 614.2 381.8 613.8 383.2 612.2 384.8 609.2 391.8 608.8 398.2 608.2 398.8 608.8 403.2 609.8 405.2 612.2 407.8 616.8 409.8 623.2 410.2 623.8 409.8 627.8 409.2 635.2 405.2 650.8 393.2 660.8 382.2 663.2 378.8 666.2 376.2 669.2 372.2 674.2 362.8 675.8 357.8 677.8 353.8 678.2 349.2 679.2 346.8 679.8 339.2 680.2 338.8 680.2 330.8 680.8 330.2 680.2 317.2 677.2 309.8Z" fill="#828282"/>
<path d="M672.8 307.2 671.8 306.8 670.2 307.8 662.2 315.2 652.8 321.8 649.2 325.2 641.2 340.8 636.2 347.2 630.2 357.2 625.8 363.2 621.2 371.8 612.8 384.8 609.2 393.2 609.2 398.2 608.8 398.8 609.2 399.8 609.2 402.8 610.2 404.8 612.8 407.2 616.8 409.2 623.8 409.8 630.2 407.8 631.2 406.8 636.2 404.2 650.2 393.2 660.8 381.8 663.2 378.2 665.8 376.2 668.8 372.2 673.8 363.2 677.2 353.8 678.2 347.2 678.8 346.8 678.8 343.8 679.2 343.2 679.2 339.2 679.8 338.8 679.8 322.2 679.2 321.8 679.2 318.2 676.2 311.2Z" fill="#707070"/>
<path d="M672.2 309.2 665.8 313.2 660.2 317.8 652.2 322.8 648.8 326.8 642.2 339.8 633.2 352.2 630.2 357.8 625.2 364.8 624.2 367.2 616.8 379.8 612.8 385.2 609.8 393.2 609.8 402.2 610.8 404.2 614.8 407.8 619.2 409.2 624.8 409.2 629.2 407.8 635.8 404.2 649.8 393.2 661.2 380.8 663.8 377.2 665.8 375.8 669.2 370.8 673.8 362.2 673.8 361.2 676.8 354.2 678.2 345.2 678.8 344.8 678.8 339.2 679.2 338.8 679.2 326.8 678.8 326.2 678.8 322.2 677.8 319.8 677.8 317.8 674.2 311.2Z" fill="#5d5d5d"/>
<path d="M672.2 312.2 665.8 314.8 663.2 316.8 653.8 322.2 649.2 326.8 643.2 338.8 637.2 346.8 630.8 356.8 630.2 358.2 626.2 363.8 621.8 372.2 613.2 385.2 610.8 391.2 610.8 392.8 610.2 393.2 610.2 401.2 611.2 403.8 612.8 405.8 614.2 406.8 619.2 408.8 624.8 408.8 628.2 407.8 634.2 404.8 648.8 393.8 654.8 387.8 668.2 371.8 669.8 368.2 672.2 364.8 676.8 352.8 677.2 347.8 678.2 345.2 678.2 336.8 678.8 336.2 678.8 333.8 678.2 333.2 678.2 325.8 677.8 325.2 677.8 322.8 675.2 315.8Z" fill="#4a4a4a"/>
<path d="M672.2 314.8 669.8 314.8 666.8 315.8 656.2 321.2 653.2 323.2 650.2 326.2 648.2 329.2 645.2 336.2 640.2 343.8 636.8 347.8 636.2 349.2 627.2 362.8 622.8 371.2 612.8 387.2 610.8 393.2 610.8 400.8 612.8 404.8 614.8 406.2 619.8 408.2 624.8 408.2 629.8 406.8 630.8 405.8 635.2 403.8 648.2 393.8 655.2 386.8 668.2 370.8 672.8 362.8 674.2 357.8 675.2 356.2 676.2 353.2 676.2 351.2 676.8 350.8 676.8 347.8 677.8 345.2 677.8 329.2 677.2 328.8 677.2 325.8 675.2 319.2 673.8 316.2Z" fill="#373737"/>
<path d="M671.8 316.8 666.8 317.2 661.2 319.8 660.2 319.8 652.8 324.2 649.8 327.8 644.8 337.8 636.8 348.2 612.8 388.2 611.2 393.2 611.2 400.2 612.8 403.8 615.2 405.8 619.8 407.8 624.8 407.8 625.2 407.2 628.8 406.8 636.8 402.2 650.8 391.2 665.2 374.2 668.8 369.2 673.2 360.8 675.8 353.2 676.2 348.2 677.2 345.2 677.2 332.8 676.8 332.2 676.8 328.2 676.2 327.8 676.2 325.8 675.2 322.2Z" fill="#252525"/>
<path d="M671.2 318.8 669.2 318.2 668.8 318.8 665.2 318.8 656.8 322.2 653.8 324.2 650.8 327.2 648.8 330.2 645.2 337.8 637.8 347.2 630.8 359.2 627.8 363.2 622.2 373.8 615.2 384.2 613.2 388.2 611.8 393.2 611.8 399.2 612.2 399.8 612.2 401.2 613.2 403.2 617.2 406.2 620.2 407.2 627.2 406.8 633.8 403.8 640.2 399.2 650.8 390.8 655.2 385.8 661.2 377.8 664.8 374.2 668.2 369.2 672.8 360.8 672.8 359.8 673.8 358.2 673.8 356.8 674.8 355.2 674.8 353.8 675.8 351.2 676.2 341.8 676.8 341.2 676.8 334.8 676.2 334.2 675.8 327.8 674.8 324.2Z" fill="#121212"/>
<path d="M670.8 320.2 669.2 320.2 668.8 319.8 663.8 320.2 659.2 321.8 654.8 324.2 650.8 328.2 645.8 337.8 636.8 349.2 613.8 388.2 612.2 393.2 612.2 398.2 613.8 402.8 616.8 405.2 620.8 406.8 627.2 406.2 634.8 402.8 636.2 401.2 639.8 399.2 650.8 390.2 660.8 377.8 663.8 374.8 667.8 369.2 672.8 359.8 674.8 353.8 675.2 348.2 675.8 347.8 675.8 332.8 675.2 332.2 675.2 329.8 673.8 324.8Z" fill="#e0e0e0" stroke="#fff" stroke-width="1.3"/>
<path d="M670.2 321.8 669.2 321.2 663.2 321.2 658.8 322.8 654.2 325.2 650.2 329.8 647.2 335.2 647.2 336.2 645.2 339.2 636.8 349.8 634.2 354.8 627.8 364.8 623.8 372.8 616.2 384.2 614.2 388.2 612.8 393.2 613.2 400.2 614.2 402.2 617.2 404.8 621.2 406.2 624.8 406.2 631.2 404.2 636.2 401.2 648.8 391.8 651.8 388.8 667.2 369.2 672.2 359.8 674.2 353.8 674.8 348.2 675.2 347.8 675.2 334.8 674.8 334.2 674.8 331.8 674.2 331.2 674.2 329.2 673.2 326.2Z" fill="#cdcdcd"/>
<path d="M669.2 322.8 667.8 322.2 662.8 322.2 657.8 323.8 655.2 325.2 651.2 329.2 646.2 338.8 637.8 348.8 632.2 358.8 628.8 363.8 624.2 372.8 616.8 384.2 614.8 388.2 613.2 393.2 613.2 396.8 614.8 401.8 617.8 404.2 621.8 405.8 627.2 405.2 632.2 403.2 641.2 397.2 648.8 391.2 652.2 387.8 661.2 375.8 664.2 372.8 670.2 363.2 672.8 357.2 672.8 355.8 674.2 351.8 674.2 348.2 674.8 347.8 674.8 336.8 674.2 336.2 674.2 333.2 673.8 332.8 672.8 327.8 671.2 324.8Z" fill="#bbbbbb"/>
<path d="M669.2 324.2 666.8 323.2 661.8 323.2 658.2 324.2 654.8 326.2 650.8 330.8 647.8 337.2 645.8 340.2 637.8 349.2 631.8 360.2 629.8 362.8 624.8 372.8 615.2 388.2 614.2 391.2 614.2 393.2 613.8 393.8 613.8 396.2 614.2 396.8 614.8 400.2 617.2 403.2 622.2 405.2 627.8 404.8 633.2 402.2 639.2 398.2 645.8 392.8 648.2 391.2 652.2 387.2 666.8 368.2 671.8 358.8 673.8 351.8 673.8 347.8 674.2 347.2 674.2 339.8 673.8 339.2 673.2 332.2 671.8 327.8Z" fill="#a8a8a8"/>
<path d="M668.8 325.2 666.2 324.2 660.8 324.2 655.8 326.2 651.8 330.2 647.8 338.2 646.2 340.2 641.8 344.8 637.8 349.8 632.8 359.2 630.2 362.8 627.2 369.2 615.8 388.2 614.8 391.2 614.8 393.2 614.2 393.8 614.8 398.2 615.8 400.8 619.2 403.8 622.8 404.8 627.8 404.2 633.2 401.8 639.2 397.8 648.2 390.8 651.8 387.2 659.8 376.2 665.2 369.8 669.8 362.2 671.2 358.8 673.2 351.8 673.2 347.2 673.8 346.8 672.8 333.8 671.8 330.2Z" fill="#959595"/>
<path d="M668.2 326.2 664.8 324.8 661.8 324.8 656.8 326.2 654.2 328.2 651.8 331.2 649.2 335.8 649.2 336.8 647.2 339.8 638.8 348.8 633.8 358.2 631.2 361.8 627.8 369.2 616.2 388.2 614.8 395.2 616.2 400.2 618.8 402.8 623.2 404.2 627.8 403.8 633.2 401.2 640.8 396.2 648.2 390.2 651.8 386.8 655.8 380.8 665.2 368.8 670.2 360.2 672.8 351.8 672.8 346.8 673.2 346.2 671.8 332.8 669.8 328.2Z" fill="#828282"/>
<path d="M667.2 326.8 664.8 325.8 659.8 325.8 656.2 327.2 652.8 330.8 649.8 335.8 649.2 337.8 646.8 341.2 644.8 342.8 638.8 349.2 632.8 360.8 630.2 364.2 629.8 366.2 625.8 373.8 616.8 388.2 615.8 391.2 615.8 397.8 616.8 399.8 619.2 402.2 623.8 403.8 629.2 402.8 633.2 400.8 640.8 395.8 645.2 391.8 647.8 390.2 651.2 386.8 652.2 384.8 663.2 370.8 668.8 362.2 672.2 351.8 672.2 339.8 671.8 339.2 671.8 336.8 671.2 336.2 670.8 332.2 668.8 328.2Z" fill="#707070"/>
<path d="M666.2 327.2 663.8 326.2 660.8 326.2 656.8 327.8 652.8 331.8 648.2 340.2 639.8 348.2 633.2 360.8 630.8 364.2 628.2 370.2 627.2 371.2 622.2 380.8 618.2 386.2 616.2 391.2 616.2 397.2 617.8 400.2 621.2 402.8 628.2 402.8 633.2 400.2 642.8 393.8 645.8 390.8 647.8 389.8 650.8 386.8 657.2 377.2 663.8 369.2 669.2 360.2 671.8 351.8 671.8 342.2 671.2 341.8 670.8 335.8 669.2 330.8Z" fill="#5d5d5d"/>
<path d="M666.2 328.2 664.2 327.2 658.8 327.2 656.2 328.8 653.8 331.2 651.8 334.2 649.8 339.2 647.8 341.8 644.2 344.2 639.8 348.8 634.8 358.8 631.8 363.2 630.2 366.2 630.2 367.2 625.8 375.8 624.8 376.8 622.2 381.8 618.8 386.2 617.2 389.8 617.2 391.2 616.8 391.8 616.8 396.8 617.8 399.2 619.8 401.2 621.8 402.2 628.2 402.2 633.2 399.8 637.2 396.8 640.2 395.2 650.8 386.2 656.2 377.8 664.8 366.8 665.2 365.2 668.8 360.2 671.2 351.8 671.2 342.8 670.8 342.2 670.2 336.8 668.8 331.8Z" fill="#4a4a4a"/>
<path d="M663.8 327.8 659.2 327.8 657.2 328.8 653.8 332.2 649.2 340.8 646.2 343.8 644.2 344.8 640.2 348.8 625.2 377.8 620.2 384.8 618.2 388.8 617.2 391.8 617.2 396.8 618.2 398.8 620.8 401.2 621.8 401.8 628.2 401.8 638.8 395.8 642.2 393.2 645.8 389.8 647.8 388.8 650.2 386.2 656.8 376.2 661.8 370.2 665.2 364.2 666.8 362.8 668.8 358.8 670.8 351.8 670.8 344.8 670.2 344.2 670.2 340.8 669.8 340.2 668.8 333.8 667.2 330.8Z" fill="#373737"/>
<path d="M664.8 329.2 662.8 328.2 659.2 328.2 656.8 329.8 652.8 334.8 650.8 339.8 648.2 342.8 645.8 344.8 644.2 345.2 640.2 349.2 624.8 379.8 620.2 385.8 617.8 391.8 617.8 396.2 619.2 399.2 621.8 401.2 628.2 401.2 638.8 395.2 642.2 392.8 645.8 389.2 647.2 388.8 649.8 386.2 656.8 375.2 661.8 369.2 664.2 364.8 666.8 361.8 668.2 358.8 669.8 353.8 669.8 351.8 670.2 351.2 670.2 345.2 669.8 344.8 669.2 339.8 668.8 339.2 668.8 337.2 667.2 332.2Z" fill="#252525"/>
<path d="M662.8 328.8 658.2 329.2 654.2 333.2 652.2 336.8 652.2 338.2 651.2 340.2 648.8 343.2 645.2 345.2 640.8 349.2 625.2 379.8 619.2 388.8 618.2 391.8 618.2 396.2 618.8 397.8 621.2 400.2 622.2 400.8 628.2 400.8 636.2 396.2 646.2 388.8 651.2 383.2 656.2 375.2 662.2 367.8 663.8 364.8 666.8 360.8 669.2 353.8 669.8 345.8 669.2 345.2 669.2 343.2 668.8 342.8 667.2 334.2 665.8 331.2Z" fill="#121212"/>
<path d="M662.8 329.2 659.2 329.2 658.2 329.8 654.8 333.2 652.8 336.8 652.8 338.2 651.8 340.2 648.2 344.2 644.8 345.8 640.8 349.2 625.8 379.8 619.8 388.2 618.2 392.8 618.2 394.2 619.2 397.8 621.8 400.2 622.8 400.8 627.8 400.8 638.2 394.8 641.8 392.2 645.2 388.8 646.8 388.2 649.8 385.2 655.8 375.2 661.8 367.8 663.2 364.8 666.8 360.2 667.8 358.2 667.8 356.8 669.2 352.2 669.2 345.8 668.8 345.2 668.2 340.8 667.8 340.2 666.2 333.2 664.8 330.8Z" fill="#e0e0e0" stroke="#fff" stroke-width="1.3"/>
<path d="M663.8 331.2 661.8 330.2 659.8 330.2 657.8 331.2 655.2 333.8 653.2 336.8 653.2 337.8 651.8 340.8 647.8 344.8 644.8 346.2 641.2 349.2 634.2 363.2 633.2 364.2 631.8 368.8 629.2 372.8 624.8 382.2 623.2 383.8 620.2 388.8 619.2 391.8 619.2 395.2 619.8 396.8 622.2 399.2 625.2 400.2 628.2 399.8 638.2 394.2 641.8 391.8 644.8 388.8 646.8 387.8 649.2 385.2 655.8 374.8 661.8 367.2 663.2 364.2 665.8 361.2 667.2 358.2 668.2 353.2 668.8 352.8 668.8 345.2 668.2 344.8 668.2 342.8 667.8 342.2 666.2 335.2Z" fill="#cdcdcd"/>
<path d="M662.2 332.2 658.8 332.2 655.2 335.2 652.8 340.2 650.2 343.2 643.2 348.2 640.8 351.2 626.2 380.8 621.2 388.8 620.8 390.2 620.8 395.2 623.2 398.2 624.8 398.8 629.2 398.2 637.8 393.8 645.8 387.8 649.2 384.2 656.2 373.2 660.8 367.8 665.2 360.8 667.8 354.2 668.2 346.2 667.8 345.8 667.8 343.8 665.8 336.8 663.8 333.2Z" fill="#bbbbbb"/>
<path d="M662.2 334.2 660.2 333.8 657.8 334.8 655.2 337.2 653.2 340.8 648.2 345.8 644.2 348.2 641.2 351.8 625.8 383.2 624.8 384.2 622.2 389.2 622.2 391.8 621.8 392.2 622.2 392.8 622.2 394.8 624.2 396.8 625.2 397.2 628.2 397.2 631.2 396.2 638.8 392.2 645.2 387.2 650.2 381.8 655.2 373.8 658.2 370.2 664.2 361.2 666.2 357.2 666.2 355.8 667.2 353.2 667.2 345.2 666.8 344.8 665.8 339.8 663.8 335.8Z" fill="#a8a8a8"/>
<path d="M661.8 336.2 658.8 336.2 657.8 336.8 648.8 346.2 644.8 348.8 641.8 352.2 635.8 364.2 634.8 365.2 633.2 369.8 623.8 389.2 623.8 393.2 625.8 395.2 630.2 395.2 637.8 391.8 645.2 386.2 649.8 381.2 653.8 374.8 656.8 371.2 663.8 360.8 666.2 354.2 666.8 348.2 666.2 347.8 666.2 345.2 664.8 340.2Z" fill="#959595"/>
<path d="M661.8 338.8 658.8 338.2 656.2 339.8 649.2 346.8 647.2 347.8 642.8 352.2 640.8 355.2 626.8 384.8 625.8 387.8 625.8 391.8 627.2 393.2 629.8 393.8 633.2 392.8 638.2 390.2 646.2 384.2 660.8 364.2 664.2 357.8 665.2 354.8 665.2 352.2 665.8 351.8 665.2 345.2 663.8 341.2Z" fill="#828282"/>
<path d="M660.8 340.8 657.8 340.8 656.8 341.2 651.2 346.2 646.8 349.2 643.8 352.2 641.8 355.2 635.2 367.8 635.2 368.8 629.2 381.8 627.8 386.2 627.8 389.8 629.2 391.2 632.8 391.2 635.8 390.2 644.2 384.8 649.2 379.2 660.8 362.8 663.2 357.8 664.2 354.8 664.2 351.8 664.8 351.2 663.8 344.8 662.8 342.8Z" fill="#707070"/>
<path d="M660.2 343.2 658.2 342.8 654.2 344.8 648.2 349.2 642.8 355.2 636.2 367.8 636.2 368.8 632.2 377.2 630.2 383.2 630.2 387.8 631.2 388.8 635.2 388.8 638.8 387.2 643.8 383.8 649.2 377.8 659.8 362.8 662.2 357.8 663.2 354.2 663.2 348.2 662.2 345.2Z" fill="#5d5d5d"/>
<path d="M659.8 345.8 656.8 345.2 653.8 346.8 648.8 350.2 643.2 356.2 637.8 366.8 637.8 367.8 636.2 370.2 636.2 371.2 633.2 378.2 632.2 384.2 633.8 386.2 637.8 385.8 644.2 381.8 648.8 376.8 656.8 365.8 660.8 358.2 661.8 355.2 661.8 348.8Z" fill="#4a4a4a"/>
<path d="M658.8 348.2 655.8 347.8 651.8 349.8 648.8 351.8 644.2 356.8 638.8 367.2 637.2 372.2 636.2 373.8 636.2 375.2 635.2 377.2 635.2 382.2 636.2 383.2 639.8 382.8 643.8 380.2 649.2 374.2 655.8 365.2 659.2 358.8 660.2 355.2 660.2 350.8Z" fill="#373737"/>
<path d="M656.8 350.8 653.8 350.8 650.8 352.2 646.8 355.8 644.2 359.2 640.2 367.2 638.2 373.2 637.8 377.8 638.8 379.2 641.2 379.2 643.8 377.8 648.2 373.2 654.2 365.2 657.2 359.8 658.2 356.2 658.2 352.8Z" fill="#252525"/>
<path d="M654.8 354.2 652.2 354.2 650.2 355.2 646.8 358.8 644.8 361.8 641.8 368.8 641.8 370.8 641.2 371.2 641.8 374.2 643.2 374.2 645.2 373.2 648.8 369.8 653.8 362.8 655.2 359.2 655.2 354.8Z" fill="#121212"/></g>
<path d="M357.4 75.8H464V439.4L306.3 438.6Z" fill="none" stroke="#000" stroke-width="2" stroke-linejoin="miter"/>
<path d="M462.2 77.5V437.8H310" fill="none" stroke="#bbb" stroke-width="1.2"/>
<path d="M749.2 77H856.2V439.6L699 439Z" fill="none" stroke="#000" stroke-width="2" stroke-linejoin="miter"/>
<path d="M854.4 78.7V438H703" fill="none" stroke="#bbb" stroke-width="1.2"/>
<text x="409" y="132.4" font-size="30.3" text-anchor="middle" fill="#000">0.07</text>
<text x="807" y="132.8" font-size="30.5" text-anchor="middle" fill="#000">2.09</text>
<g id="panel-a-axes">
<rect x="93.3" y="71.1" width="373.3" height="372.9" fill="none" stroke="#000" stroke-width="1.9"/>
<path d="M84.7 87.2H93.3M84.7 158.3H93.3M84.7 229.4H93.3M84.7 300.5H93.3M84.7 371.6H93.3M84.7 442.7H93.3" stroke="#000" stroke-width="2.6" fill="none"/>
<path d="M88.3 105H93.3M88.3 122.8H93.3M88.3 140.5H93.3M88.3 176.1H93.3M88.3 193.9H93.3M88.3 211.6H93.3M88.3 247.2H93.3M88.3 264.9H93.3M88.3 282.7H93.3M88.3 318.3H93.3M88.3 336.1H93.3M88.3 353.8H93.3M88.3 389.4H93.3M88.3 407.1H93.3M88.3 424.9H93.3" stroke="#000" stroke-width="1.7" fill="none"/>
<path d="M144.2 444V453.5M250.2 444V453.5M356.3 444V453.5M462.3 444V453.5" stroke="#000" stroke-width="2.8" fill="none"/>
<path d="M102 444V448.5M112.3 444V449.5M120.7 444V448.5M127.8 444V448.5M133.9 444V448.5M139.3 444V448.5M176.1 444V448.5M194.8 444V448.5M208 444V448.5M218.3 444V449.5M226.7 444V448.5M233.8 444V448.5M240 444V448.5M245.4 444V448.5M282.2 444V448.5M300.8 444V448.5M314.1 444V448.5M324.4 444V449.5M332.8 444V448.5M339.9 444V448.5M346 444V448.5M351.4 444V448.5M388.2 444V448.5M406.9 444V448.5M420.1 444V448.5M430.4 444V449.5M438.8 444V448.5M445.9 444V448.5M452.1 444V448.5M457.5 444V448.5" stroke="#000" stroke-width="1.4" fill="none"/>
<rect x="485.6" y="72" width="373.79999999999995" height="372.9" fill="none" stroke="#000" stroke-width="1.9"/>
<path d="M477 88.1H485.6M477 159.2H485.6M477 230.3H485.6M477 301.4H485.6M477 372.5H485.6M477 443.6H485.6" stroke="#000" stroke-width="2.6" fill="none"/>
<path d="M480.6 105.9H485.6M480.6 123.6H485.6M480.6 141.4H485.6M480.6 177H485.6M480.6 194.8H485.6M480.6 212.5H485.6M480.6 248.1H485.6M480.6 265.8H485.6M480.6 283.6H485.6M480.6 319.2H485.6M480.6 336.9H485.6M480.6 354.7H485.6M480.6 390.3H485.6M480.6 408.1H485.6M480.6 425.8H485.6" stroke="#000" stroke-width="1.7" fill="none"/>
<path d="M536.5 444.9V454.4M642.5 444.9V454.4M748.6 444.9V454.4M854.6 444.9V454.4" stroke="#000" stroke-width="2.8" fill="none"/>
<path d="M494.3 444.9V449.4M504.6 444.9V450.4M513 444.9V449.4M520.1 444.9V449.4M526.2 444.9V449.4M531.6 444.9V449.4M568.4 444.9V449.4M587.1 444.9V449.4M600.3 444.9V449.4M610.6 444.9V450.4M619 444.9V449.4M626.1 444.9V449.4M632.3 444.9V449.4M637.7 444.9V449.4M674.5 444.9V449.4M693.1 444.9V449.4M706.4 444.9V449.4M716.7 444.9V450.4M725.1 444.9V449.4M732.2 444.9V449.4M738.3 444.9V449.4M743.7 444.9V449.4M780.5 444.9V449.4M799.2 444.9V449.4M812.4 444.9V449.4M822.7 444.9V450.4M831.1 444.9V449.4M838.2 444.9V449.4M844.4 444.9V449.4M849.8 444.9V449.4" stroke="#000" stroke-width="1.4" fill="none"/>
</g>
<path d="M46.3 212V490.6H279" fill="none" stroke="#231815" stroke-width="2.4"/>
<path d="M46.3 200.5L54.6 214.5H38L46.3 200.5ZM291.5 490.6L277.5 498.6V482.6Z" fill="#231815"/>
<text x="31.6" y="328.4" font-size="33.5" text-anchor="middle" fill="#000" transform="rotate(-90 31.6 328.4)">SSC</text>
<text x="305.6" y="501.4" font-size="33.2" fill="#000">αActinin</text>
<text x="942" y="45.8" font-size="57.5" font-weight="bold" fill="#000">b</text>
<rect x="1087.6" y="401.3" width="45.8" height="7.7" fill="#d9d9d9" stroke="#000" stroke-width="3"/>
<rect x="1156.7" y="148.9" width="45.6" height="260.1" fill="#06569c" stroke="#000" stroke-width="3"/>
<path d="M1064.7 49.2V409.0M1054.4 409.0H1225.3" fill="none" stroke="#000" stroke-width="3.3"/>
<path d="M1054.6 409H1064.7M1054.6 289.6H1064.7M1054.6 170.2H1064.7M1054.6 50.8H1064.7M1110.5 409.0V419.6M1179.9 409.0V419.6" fill="none" stroke="#000" stroke-width="3"/>
<text x="1052.3" y="419.2" font-size="29" text-anchor="end" fill="#000">0</text>
<text x="1052.3" y="299.8" font-size="29" text-anchor="end" fill="#000">1</text>
<text x="1052.3" y="180.4" font-size="29" text-anchor="end" fill="#000">2</text>
<text x="1052.3" y="61" font-size="29" text-anchor="end" fill="#000">3</text>
<path d="M1179.5 148V124.2M1167.4 124.2H1191.6" fill="none" stroke="#000" stroke-width="3"/>
<rect x="1173.8" y="95.7" width="11" height="11" fill="#000"/>
<rect x="1173.8" y="154.7" width="11" height="11" fill="#000"/>
<rect x="1173.8" y="180.4" width="11" height="11" fill="#000"/>
<path d="M1095 399H1126" stroke="#000" stroke-width="3.4"/>
<circle cx="1095.5" cy="397.2" r="5.5" fill="#000"/>
<circle cx="1125.5" cy="400.6" r="5.5" fill="#000"/>
<circle cx="1110.5" cy="406.2" r="5.5" fill="#000"/>
<path d="M1105.9 371.5V70.1H1179.2V85.2" fill="none" stroke="#000" stroke-width="3.2"/>
<text x="1151.8" y="55.2" font-size="32.3" text-anchor="middle" fill="#000">P=0.0006</text>
<text x="1145" y="428.5" font-size="29.6" text-anchor="end" fill="#000" transform="rotate(-45 1145 428.5)">shNT</text>
<text x="1211" y="427.5" font-size="29.6" text-anchor="end" fill="#000" transform="rotate(-45 1211 427.5)">shYBX1</text>
<path d="M1074.7 511.3H1210" stroke="#000" stroke-width="2"/>
<text x="1137" y="543.5" font-size="28.3" text-anchor="middle" fill="#000">TBX5</text>
<text font-size="30.3" text-anchor="middle" textLength="141" lengthAdjust="spacingAndGlyphs" transform="translate(1010.3 238) rotate(-90)">αActinin<tspan font-size="18" dy="-10">+</tspan><tspan dy="10">%</tspan></text>
<text x="7.5" y="626.2" font-size="57" font-weight="bold" fill="#000">c</text>
<text x="244.6" y="673.7" font-size="37" text-anchor="middle" fill="#000">TBX5+shYBX1</text>
<text font-size="39.5" font-weight="bold" text-anchor="middle" textLength="249" lengthAdjust="spacingAndGlyphs" transform="translate(72.2 857.4) rotate(-90)"><tspan fill="#e8211d">αActinin</tspan><tspan fill="#2b2bd0">/DAPI</tspan></text>
<defs><clipPath id="cpm"><rect x="86.1" y="693.8" width="370.2" height="313.6"/></clipPath><filter id="b0" x="-20%" y="-20%" width="140%" height="140%"><feGaussianBlur stdDeviation="0.7"/></filter><filter id="b1" x="-30%" y="-30%" width="160%" height="160%"><feGaussianBlur stdDeviation="1.3"/></filter><filter id="b2" x="-30%" y="-30%" width="160%" height="160%"><feGaussianBlur stdDeviation="2.5"/></filter><filter id="b3" x="-50%" y="-50%" width="200%" height="200%"><feGaussianBlur stdDeviation="3.5"/></filter><filter id="tex" x="-5%" y="-5%" width="110%" height="110%" color-interpolation-filters="sRGB"><feTurbulence type="fractalNoise" baseFrequency="0.22" numOctaves="2" seed="7" result="n"/><feColorMatrix in="n" type="matrix" values="2.2 0 0 0 -0.2  2.2 0 0 0 -0.2  2.2 0 0 0 -0.2  0 0 0 0 1" result="m"/><feComposite in="SourceGraphic" in2="m" operator="arithmetic" k1="1" k2="0" k3="0" k4="0" result="t"/><feGaussianBlur in="t" stdDeviation="0.8"/></filter></defs>
<rect x="86.1" y="693.8" width="370.2" height="313.6" fill="#000"/>
<g clip-path="url(#cpm)">
<path d="M346.4 722.2 354.7 725.2 359.6 731.2 367.9 730 375.1 728.2 381.1 732.4 379.9 737.2 373.9 743.2 370.3 750.4 365.5 757.6 355.9 762.4 346.4 767.2 336.8 773.2 327.2 779.2 316.4 784 305.6 788.8 293.6 794.8 281.6 801.9 269.6 807.9 260 812.1 256.9 811.6 236.7 823.6 216.4 834.4 202.9 840.5 201.6 842.6 194.9 848 197.6 852.1 195.5 855.4 189.5 854.8 181.4 860.2 173.3 857.5 168.5 860.8 165.2 858.8 155.7 854.8 142.2 852.7 128.7 850.7 113.9 848 105.8 845.3 113.9 842 122 842 135.5 843.3 149 844 162.5 844 176 843.3 189.5 842.6 202.3 838 215.8 831.7 236 820.9 256.3 808.8 260 806.7 270.8 799.5 280.4 791.2 287.6 784 296 776.8 304.4 769.6 311.6 761.2 316.4 752.8 317.6 746.8 322.4 740.8 323.6 733.6 329.6 727.6 336.8 724Z" fill="#700000" filter="url(#b3)" opacity="0.55"/>
<path d="M346.4 722.2 354.7 725.2 359.6 731.2 367.9 730 375.1 728.2 381.1 732.4 379.9 737.2 373.9 743.2 370.3 750.4 365.5 757.6 355.9 762.4 346.4 767.2 336.8 773.2 327.2 779.2 316.4 784 305.6 788.8 293.6 794.8 281.6 801.9 269.6 807.9 260 812.1 256.9 811.6 236.7 823.6 216.4 834.4 202.9 840.5 201.6 842.6 194.9 848 197.6 852.1 195.5 855.4 189.5 854.8 181.4 860.2 173.3 857.5 168.5 860.8 165.2 858.8 155.7 854.8 142.2 852.7 128.7 850.7 113.9 848 105.8 845.3 113.9 842 122 842 135.5 843.3 149 844 162.5 844 176 843.3 189.5 842.6 202.3 838 215.8 831.7 236 820.9 256.3 808.8 260 806.7 270.8 799.5 280.4 791.2 287.6 784 296 776.8 304.4 769.6 311.6 761.2 316.4 752.8 317.6 746.8 322.4 740.8 323.6 733.6 329.6 727.6 336.8 724Z" fill="#f41612" stroke="#f41612" stroke-width="0.8" filter="url(#tex)"/>
<path d="M204 840L258 810" stroke="#7a0606" stroke-width="1.6" opacity="0.55" filter="url(#b0)"/>
<path d="M120 845L165 850L190 848" stroke="#ff2a20" stroke-width="3" fill="none" opacity="0.7" filter="url(#b1)"/>
<ellipse cx="133.3" cy="694.5" rx="4.3" ry="4.8" transform="rotate(0 133.3 694.5)" fill="#8a2be0" filter="url(#b2)"/>
<ellipse cx="233.9" cy="759.2" rx="6.6" ry="8.1" transform="rotate(-15 233.9 759.2)" fill="#5a22d8" filter="url(#b2)"/>
<ellipse cx="188.2" cy="794.3" rx="6.6" ry="10.9" transform="rotate(25 188.2 794.3)" fill="#1a1ac0" filter="url(#b2)"/>
<ellipse cx="302.2" cy="812" rx="10" ry="6.6" transform="rotate(-10 302.2 812)" fill="#2424ee" filter="url(#b2)"/>
<ellipse cx="331.4" cy="836.9" rx="10.9" ry="9" transform="rotate(-25 331.4 836.9)" fill="#1616a8" filter="url(#b2)"/>
<ellipse cx="331.4" cy="836.9" rx="5.2" ry="4.3" transform="rotate(-25 331.4 836.9)" fill="#0a0a60" filter="url(#b2)" opacity="0.8"/>
<ellipse cx="389.3" cy="836.9" rx="18.5" ry="7.1" transform="rotate(5 389.3 836.9)" fill="#1c1ce0" filter="url(#b2)"/>
<ellipse cx="227.4" cy="935.5" rx="7.1" ry="10" transform="rotate(10 227.4 935.5)" fill="#1818a8" filter="url(#b2)"/>
<ellipse cx="227.4" cy="935.5" rx="3.4" ry="4.7" transform="rotate(10 227.4 935.5)" fill="#0a0a60" filter="url(#b2)" opacity="0.8"/>
<ellipse cx="258.2" cy="936.5" rx="10.4" ry="13.8" transform="rotate(-15 258.2 936.5)" fill="#2424d8" filter="url(#b2)"/>
<ellipse cx="272.5" cy="951" rx="8.1" ry="10.9" transform="rotate(15 272.5 951)" fill="#1c1cb0" filter="url(#b2)"/>
<ellipse cx="406" cy="937.5" rx="10.9" ry="6.6" transform="rotate(25 406 937.5)" fill="#1c1cc8" filter="url(#b2)"/>
<ellipse cx="355.7" cy="952.7" rx="10" ry="7.6" transform="rotate(-20 355.7 952.7)" fill="#2020d0" filter="url(#b2)"/>
<ellipse cx="355.7" cy="952.7" rx="4.7" ry="3.6" transform="rotate(-20 355.7 952.7)" fill="#0a0a60" filter="url(#b2)" opacity="0.8"/>
<ellipse cx="363.4" cy="977.1" rx="7.1" ry="10.9" transform="rotate(-30 363.4 977.1)" fill="#1616a0" filter="url(#b2)"/>
<ellipse cx="102.5" cy="973" rx="11.4" ry="7.1" transform="rotate(-35 102.5 973)" fill="#1616a8" filter="url(#b2)"/>
<ellipse cx="181.8" cy="993.2" rx="11.9" ry="6.2" transform="rotate(-5 181.8 993.2)" fill="#1a1ac8" filter="url(#b2)"/>
<ellipse cx="328.4" cy="756.4" rx="6" ry="11" transform="rotate(28 328.4 756.4)" fill="#d0188c" filter="url(#b2)" opacity="0.9"/>
<ellipse cx="389.5" cy="788.8" rx="5" ry="8" fill="#4a0404" filter="url(#b3)" opacity="0.8"/>
</g>
<path d="M110.2 975H268.6" stroke="#fff" stroke-width="4.6"/>
<text x="167.2" y="960" font-size="30.5" font-weight="bold" text-anchor="middle" fill="#fff">100µm</text>
<text x="490" y="628.4" font-size="57" font-weight="bold" fill="#000">d</text>
<rect x="607.4" y="900.1" width="22.6" height="103.9" fill="#d9d9d9" stroke="#000" stroke-width="2"/>
<rect x="642.6" y="773.3" width="22.8" height="230.7" fill="#06569c" stroke="#000" stroke-width="2"/>
<path d="M654 773.3V742.9M648.4 742.9H659.6" fill="none" stroke="#000" stroke-width="2.2"/>
<rect x="700.9" y="902.3" width="22.6" height="101.7" fill="#d9d9d9" stroke="#000" stroke-width="2"/>
<rect x="736.1" y="789.0" width="22.8" height="215" fill="#06569c" stroke="#000" stroke-width="2"/>
<path d="M747.5 789.0V769.9M741.9 769.9H753.1" fill="none" stroke="#000" stroke-width="2.2"/>
<rect x="794.4" y="899.2" width="22.6" height="104.8" fill="#d9d9d9" stroke="#000" stroke-width="2"/>
<rect x="829.6" y="860.1" width="22.8" height="143.9" fill="#06569c" stroke="#000" stroke-width="2"/>
<path d="M841 860.1V845.3M835.4 845.3H846.6" fill="none" stroke="#000" stroke-width="2.2"/>
<rect x="887.9" y="904.2" width="22.6" height="99.8" fill="#d9d9d9" stroke="#000" stroke-width="2"/>
<rect x="923.1" y="793.4" width="22.8" height="210.6" fill="#06569c" stroke="#000" stroke-width="2"/>
<path d="M934.5 793.4V776.0M928.9 776.0H940.1" fill="none" stroke="#000" stroke-width="2.2"/>
<rect x="981.4" y="900.2" width="22.6" height="103.8" fill="#d9d9d9" stroke="#000" stroke-width="2"/>
<rect x="1016.6" y="847.3" width="22.8" height="156.7" fill="#06569c" stroke="#000" stroke-width="2"/>
<path d="M1028 847.3V839.0M1022.4 839.0H1033.6" fill="none" stroke="#000" stroke-width="2.2"/>
<path d="M596.1 644.6V1004.0M582.9 1004.0H1052" fill="none" stroke="#000" stroke-width="2.2"/>
<path d="M583.2 1004H596.1M583.2 900.8H596.1M583.2 797.6H596.1M583.2 694.4H596.1M635.6 1004.0V1016M729.1 1004.0V1016M822.6 1004.0V1016M916.1 1004.0V1016M1009.6 1004.0V1016" fill="none" stroke="#000" stroke-width="2.2"/>
<text x="580.6" y="1013.8" font-size="27" text-anchor="end" fill="#000">0</text>
<text x="580.6" y="910.6" font-size="27" text-anchor="end" fill="#000">1</text>
<text x="580.6" y="807.4" font-size="27" text-anchor="end" fill="#000">2</text>
<text x="580.6" y="704.2" font-size="27" text-anchor="end" fill="#000">3</text>
<circle cx="615" cy="894.9" r="5.1" fill="#000"/>
<circle cx="622.4" cy="898.6" r="5.1" fill="#000"/>
<circle cx="618.7" cy="909.3" r="5.1" fill="#000"/>
<circle cx="712.2" cy="892.7" r="5.1" fill="#000"/>
<circle cx="718.2" cy="901.1" r="5.1" fill="#000"/>
<circle cx="706.5" cy="913.7" r="5.1" fill="#000"/>
<circle cx="801.8" cy="893.5" r="5.1" fill="#000"/>
<circle cx="808.4" cy="898.5" r="5.1" fill="#000"/>
<circle cx="806" cy="902.2" r="5.1" fill="#000"/>
<circle cx="898.2" cy="894.3" r="5.1" fill="#000"/>
<circle cx="904.9" cy="899.7" r="5.1" fill="#000"/>
<circle cx="892.5" cy="913.3" r="5.1" fill="#000"/>
<circle cx="989" cy="895.3" r="5.1" fill="#000"/>
<circle cx="997.2" cy="898.5" r="5.1" fill="#000"/>
<circle cx="993.2" cy="903.4" r="5.1" fill="#000"/>
<rect x="648.7" y="741.4" width="10.6" height="10.6" fill="#000"/>
<rect x="648.7" y="761.2" width="10.6" height="10.6" fill="#000"/>
<rect x="648.7" y="803.3" width="10.6" height="10.6" fill="#000"/>
<rect x="742.1" y="765.7" width="10.6" height="10.6" fill="#000"/>
<rect x="748.8" y="789.3" width="10.6" height="10.6" fill="#000"/>
<rect x="735.8" y="796.1" width="10.6" height="10.6" fill="#000"/>
<rect x="835.3" y="840" width="10.6" height="10.6" fill="#000"/>
<rect x="828.6" y="863.5" width="10.6" height="10.6" fill="#000"/>
<rect x="842" y="861" width="10.6" height="10.6" fill="#000"/>
<rect x="928.5" y="770.7" width="10.6" height="10.6" fill="#000"/>
<rect x="922.6" y="798.4" width="10.6" height="10.6" fill="#000"/>
<rect x="936" y="796" width="10.6" height="10.6" fill="#000"/>
<rect x="1018.3" y="834.6" width="10.6" height="10.6" fill="#000"/>
<rect x="1026.5" y="841.2" width="10.6" height="10.6" fill="#000"/>
<rect x="1022" y="847.4" width="10.6" height="10.6" fill="#000"/>
<text x="666" y="728.2" font-size="32.5" fill="#000" transform="rotate(-90 666 728.2)">P=0.003</text>
<text x="758.8" y="755.2" font-size="32.5" fill="#000" transform="rotate(-90 758.8 755.2)">P=0.0005</text>
<text x="851.9" y="830.2" font-size="32.5" fill="#000" transform="rotate(-90 851.9 830.2)">P=0.008</text>
<text x="944.7" y="764.4" font-size="32.5" fill="#000" transform="rotate(-90 944.7 764.4)">P=0.0005</text>
<text x="1039.4" y="820.2" font-size="32.5" fill="#000" transform="rotate(-90 1039.4 820.2)">P=0.0003</text>
<text x="642.4" y="1036" font-size="27.6" text-anchor="end" fill="#000" transform="rotate(-45 642.4 1036)">SCN5A</text>
<text x="733.8" y="1037" font-size="27.6" text-anchor="end" fill="#000" transform="rotate(-45 733.8 1037)">KCN5A</text>
<text x="827.6" y="1037" font-size="27.6" text-anchor="end" fill="#000" transform="rotate(-45 827.6 1037)">ATP2A2</text>
<text x="923.1" y="1036" font-size="27.6" text-anchor="end" fill="#000" transform="rotate(-45 923.1 1036)">RYR2</text>
<text x="1017" y="1037" font-size="27.6" text-anchor="end" fill="#000" transform="rotate(-45 1017 1037)">CX43</text>
<text x="548.2" y="823.5" font-size="28.8" text-anchor="middle" fill="#000" transform="rotate(-90 548.2 823.5)">Relative expression level</text>
<rect x="1076.1" y="636.5" width="38.5" height="21" fill="#d9d9d9" stroke="#000" stroke-width="2"/>
<rect x="1076.1" y="687.3" width="38.5" height="21" fill="#06569c" stroke="#000" stroke-width="2"/>
<text x="1135.5" y="657.3" font-size="29" fill="#000">TBX5+shNT</text>
<text x="1135.5" y="707.9" font-size="29" fill="#000">TBX5+shYBX1</text>
</svg>
</body>
</html>
